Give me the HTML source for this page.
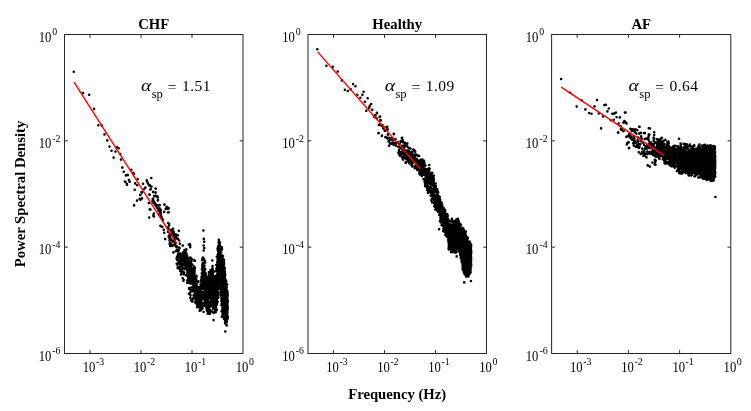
<!DOCTYPE html><html><head><meta charset="utf-8"><style>html,body{margin:0;padding:0;background:#fff;overflow:hidden}svg{display:block;will-change:transform}text{font-family:"Liberation Serif",serif;fill:#000}</style></head><body>
<svg width="751" height="411" viewBox="0 0 751 411">
<rect width="751" height="411" fill="#fff"/>
<path d="M73.8 71.7h0M83.0 93.0h0M89.2 94.7h0M94.1 108.9h0M98.3 125.2h0M101.7 125.4h0M104.5 134.4h0M107.3 140.4h0M109.5 146.6h0M111.5 150.8h0M113.6 157.6h0M115.5 151.6h0M116.9 147.2h0M118.7 148.3h0M120.2 154.0h0M121.1 159.6h0M122.3 167.6h0M123.8 171.8h0M125.9 175.4h0M127.7 175.0h0M124.9 181.5h0M126.9 184.1h0M129.1 180.0h0M129.6 181.8h0M131.3 169.7h0M133.3 172.7h0M134.0 174.1h0M127.9 175.1h0M128.9 180.0h0M125.5 181.9h0M127.0 184.8h0M137.7 179.0h0M135.2 183.4h0M137.2 185.3h0M134.7 189.7h0M143.0 183.8h0M151.3 178.0h0M146.9 180.9h0M147.9 183.4h0M149.3 185.8h0M151.3 186.8h0M145.4 187.7h0M144.0 189.2h0M150.8 189.2h0M155.7 188.7h0M141.5 192.1h0M140.1 195.0h0M149.3 194.5h0M153.2 192.1h0M155.7 192.6h0M154.2 196.0h0M157.1 196.5h0M142.0 198.4h0M139.6 198.9h0M153.2 198.9h0M146.8 180.2h0M147.6 182.7h0M149.7 185.1h0M151.5 186.5h0M145.4 187.5h0M150.2 189.5h0M155.6 188.5h0M153.1 191.9h0M155.6 192.6h0M142.0 192.4h0M149.7 194.8h0M155.6 195.8h0M157.5 196.3h0M140.5 194.8h0M142.0 198.2h0M140.5 199.7h0M152.7 198.7h0M158.0 200.2h0M153.6 201.1h0M148.8 203.1h0M155.1 203.6h0M159.5 205.0h0M157.0 206.5h0M164.3 204.5h0M167.3 207.0h0M168.7 208.4h0M149.7 209.4h0M159.5 208.4h0M154.9 196.0h0M156.5 196.5h0M157.8 197.4h0M152.9 199.4h0M157.8 200.4h0M154.9 202.8h0M156.8 204.7h0M159.7 205.2h0M164.6 204.7h0M166.5 207.2h0M168.5 208.1h0M158.8 208.6h0M158.3 210.6h0M160.7 212.0h0M164.1 212.0h0M168.0 212.5h0M153.9 213.5h0M153.4 215.9h0M160.7 214.5h0M161.2 216.9h0M150.5 209.6h0M152.5 201.0h0M153.5 203.0h0M155.0 204.5h0M156.0 206.0h0M157.0 207.5h0M158.0 209.0h0M159.0 211.0h0M160.0 213.0h0M161.0 215.0h0M161.5 217.0h0M162.5 219.0h0M156.0 205.0h0M157.5 206.0h0M159.9 208.9h0M160.8 209.9h0M160.8 212.8h0M164.2 211.8h0M166.7 207.0h0M168.1 208.9h0M168.6 212.3h0M165.7 208.9h0M159.5 214.0h0M160.5 216.0h0M161.8 218.0h0M162.8 220.6h0M160.4 225.9h0M162.3 226.9h0M163.8 229.8h0M164.2 232.7h0M165.2 239.1h0M168.1 223.0h0M169.1 225.4h0M167.7 227.4h0M168.6 229.3h0M171.1 229.8h0M172.0 232.3h0M169.6 234.2h0M170.1 237.1h0M170.6 240.0h0M174.5 234.2h0M175.9 236.1h0M177.9 235.2h0M178.8 230.8h0M177.9 239.1h0M175.4 238.1h0M173.5 242.0h0M179.8 243.9h0M190.0 244.4h0M137.0 200.6h0M134.1 205.4h0M149.2 217.6h0M153.6 214.2h0M154.0 216.5h0M179.2 240.5h0M190.0 245.0h0M190.2 247.3h0M194.3 260.4h0M193.8 268.2h0M177.3 263.8h0M177.8 268.2h0M176.7 263.8h0M177.7 268.1h0M194.2 260.4h0M194.2 267.7h0M181.0 274.5h0M188.8 244.6h0M190.2 246.0h0M195.0 260.8h0M195.0 267.6h0M203.4 230.5h0M203.8 238.9h0M204.2 241.8h0M203.6 245.5h0M204.3 248.0h0M203.7 250.5h0M212.3 260.5h0M212.5 266.0h0M218.8 239.7h0M213.6 320.1h0M225.3 331.5h0M191.1 300.5h0M192.3 301.7h0M197.2 307.2h0M199.6 310.8h0M168.0 231.8h0M168.2 228.0h0M168.7 236.2h0M169.0 237.6h0M169.2 224.0h0M169.6 240.2h0M169.5 240.3h0M169.7 244.0h0M169.8 242.7h0M170.0 244.9h0M170.2 246.0h0M170.5 238.7h0M170.7 235.2h0M171.0 243.6h0M171.3 234.1h0M171.3 230.7h0M171.4 234.1h0M171.6 245.3h0M171.9 240.6h0M172.1 245.2h0M172.3 245.9h0M172.5 245.4h0M172.7 230.1h0M172.9 233.8h0M172.9 245.1h0M173.1 228.8h0M173.4 235.5h0M173.4 252.4h0M173.7 231.9h0M173.6 236.5h0M173.7 234.2h0M173.9 237.8h0M174.0 238.8h0M174.2 241.0h0M174.3 245.2h0M174.6 236.5h0M174.7 240.2h0M174.6 242.0h0M174.8 242.2h0M174.9 245.1h0M175.0 244.2h0M175.1 239.6h0M175.2 239.0h0M175.5 243.1h0M175.4 237.0h0M175.6 234.4h0M175.8 242.8h0M175.8 251.3h0M176.2 247.0h0M176.3 247.2h0M176.3 246.5h0M176.6 246.0h0M176.7 250.0h0M176.6 246.4h0M176.6 258.6h0M177.0 256.7h0M177.1 260.1h0M177.1 250.5h0M177.2 264.5h0M177.4 238.3h0M177.5 258.5h0M177.4 256.4h0M177.7 247.2h0M177.6 263.3h0M177.8 266.9h0M178.0 251.3h0M178.1 255.9h0M178.0 254.6h0M178.2 257.3h0M178.3 253.9h0M178.4 251.2h0M178.6 255.9h0M178.4 260.1h0M178.5 263.8h0M178.7 267.5h0M178.8 256.0h0M178.7 250.1h0M178.9 256.7h0M179.1 261.8h0M179.0 255.0h0M179.2 255.5h0M179.1 254.6h0M179.1 256.0h0M179.3 254.8h0M179.5 257.3h0M179.3 260.5h0M179.6 247.9h0M179.5 261.3h0M179.6 266.8h0M179.9 268.9h0M179.8 262.9h0M179.8 268.8h0M179.9 243.7h0M180.2 270.9h0M180.1 263.6h0M180.2 253.6h0M180.5 259.2h0M180.5 261.3h0M180.5 266.1h0M180.6 261.6h0M180.7 264.8h0M180.8 259.8h0M180.8 259.6h0M181.0 260.8h0M181.0 262.4h0M181.2 262.6h0M181.2 264.1h0M181.1 260.0h0M181.5 265.1h0M181.4 273.4h0M181.4 255.2h0M181.6 255.3h0M181.5 258.2h0M181.7 257.9h0M181.8 269.0h0M181.7 259.8h0M181.9 265.8h0M181.8 273.0h0M181.9 262.6h0M182.0 272.3h0M182.0 266.5h0M182.2 269.4h0M182.2 272.8h0M182.3 272.0h0M182.3 272.1h0M182.4 263.3h0M182.6 255.3h0M182.5 255.9h0M182.6 257.3h0M182.6 254.0h0M182.7 278.2h0M182.7 245.6h0M183.0 252.3h0M183.0 252.8h0M183.2 259.9h0M183.2 255.7h0M183.3 272.0h0M183.3 259.1h0M183.4 262.3h0M183.5 271.7h0M183.4 268.0h0M183.6 260.7h0M183.6 280.6h0M183.5 280.8h0M183.7 279.8h0M183.8 274.4h0M184.0 256.6h0M184.0 264.6h0M183.9 268.1h0M184.2 272.8h0M184.0 264.8h0M184.1 260.7h0M184.1 262.3h0M184.2 262.6h0M184.4 256.9h0M184.2 252.5h0M184.4 251.1h0M184.3 254.0h0M184.6 261.1h0M184.5 250.0h0M184.5 256.2h0M184.5 250.0h0M184.7 256.3h0M184.9 256.1h0M184.8 263.3h0M184.8 263.9h0M184.8 259.4h0M185.0 269.0h0M185.2 258.2h0M185.2 268.8h0M185.2 268.8h0M185.4 269.3h0M185.5 266.6h0M185.5 252.0h0M185.6 255.5h0M185.6 263.8h0M185.7 259.3h0M185.8 267.3h0M185.8 266.3h0M185.9 251.0h0M185.9 250.2h0M186.1 275.2h0M186.1 261.5h0M186.1 253.2h0M186.2 254.2h0M186.3 254.8h0M186.3 249.4h0M186.3 256.1h0M186.4 259.5h0M186.5 261.6h0M186.4 260.3h0M186.7 253.7h0M186.7 258.3h0M186.6 265.1h0M186.8 266.5h0M186.9 263.2h0M186.9 261.2h0M186.8 260.5h0M186.9 268.4h0M187.1 264.2h0M187.1 282.8h0M187.1 282.7h0M187.3 280.5h0M187.4 273.0h0M187.3 256.3h0M187.3 267.1h0M187.5 271.3h0M187.6 274.9h0M187.5 271.6h0M187.4 259.5h0M187.5 259.8h0M187.7 263.8h0M187.5 270.5h0M187.8 267.6h0M187.9 263.7h0M187.9 261.7h0M187.9 271.6h0M187.8 276.5h0M188.0 279.2h0M187.9 269.3h0M188.2 265.4h0M188.0 277.1h0M188.2 280.3h0M188.4 272.9h0M188.2 282.9h0M188.2 270.9h0M188.4 270.4h0M188.3 269.0h0M188.4 279.8h0M188.7 263.4h0M188.5 272.7h0M188.5 274.8h0M188.7 266.0h0M188.8 258.4h0M188.7 280.5h0M188.9 293.8h0M188.8 276.9h0M188.8 262.4h0M189.0 261.4h0M189.0 268.2h0M189.1 269.6h0M189.2 258.4h0M189.2 273.7h0M189.0 288.7h0M189.2 288.1h0M189.3 275.8h0M189.2 267.1h0M189.2 267.8h0M189.3 271.4h0M189.5 271.4h0M189.4 274.4h0M189.4 275.8h0M189.6 279.8h0M189.4 264.5h0M189.5 268.2h0M189.7 280.8h0M189.7 276.1h0M189.9 274.2h0M189.8 281.1h0M190.0 269.0h0M189.9 275.5h0M189.8 282.1h0M190.1 278.3h0M190.0 276.8h0M190.2 272.5h0M190.1 279.4h0M190.1 289.2h0M190.4 257.5h0M190.4 297.9h0M190.5 289.7h0M190.4 292.4h0M190.5 295.2h0M190.6 289.8h0M190.5 278.6h0M190.5 288.1h0M190.7 283.8h0M190.6 265.9h0M190.8 262.9h0M190.7 275.6h0M190.7 282.1h0M190.7 274.4h0M190.7 268.3h0M191.0 268.3h0M190.9 267.5h0M190.9 277.9h0M191.1 267.9h0M191.1 277.7h0M191.3 272.8h0M191.3 272.5h0M191.2 260.2h0M191.3 265.5h0M191.4 274.7h0M191.5 261.2h0M191.3 265.6h0M191.4 269.5h0M191.4 271.7h0M191.5 273.7h0M191.6 281.7h0M191.6 270.4h0M191.6 271.4h0M191.6 300.4h0M191.9 301.3h0M192.0 259.1h0M192.0 271.3h0M191.9 287.3h0M192.1 278.6h0M192.0 279.2h0M192.0 271.0h0M192.1 272.8h0M192.3 276.0h0M192.4 272.2h0M192.3 271.6h0M192.3 273.7h0M192.3 264.5h0M192.3 290.3h0M192.4 300.9h0M192.4 272.3h0M192.5 276.1h0M192.6 279.4h0M192.6 277.4h0M192.8 268.6h0M192.7 287.4h0M192.6 276.0h0M192.7 283.3h0M192.9 269.9h0M192.9 275.3h0M192.8 269.0h0M192.9 280.0h0M192.8 291.5h0M193.1 298.4h0M193.1 286.2h0M193.2 284.1h0M193.1 268.3h0M193.0 273.4h0M193.0 272.0h0M193.2 282.5h0M193.2 288.3h0M193.4 285.8h0M193.4 285.9h0M193.3 290.9h0M193.6 279.9h0M193.4 277.4h0M193.4 283.7h0M193.5 289.7h0M193.5 282.7h0M193.6 288.9h0M193.6 295.4h0M193.5 284.6h0M193.8 280.9h0M193.7 272.8h0M193.7 274.7h0M193.7 280.9h0M193.9 271.6h0M193.8 273.1h0M193.8 281.9h0M193.9 266.5h0M194.0 274.8h0M194.0 280.5h0M194.0 280.5h0M194.1 281.9h0M194.0 284.2h0M194.2 274.6h0M194.1 282.5h0M194.1 287.1h0M194.4 290.9h0M194.2 294.6h0M194.3 290.8h0M194.3 297.3h0M194.5 286.0h0M194.4 276.4h0M194.5 273.7h0M194.5 272.2h0M194.5 271.1h0M194.6 269.9h0M194.6 277.8h0M194.7 276.7h0M194.7 277.4h0M194.8 282.1h0M194.9 289.3h0M194.8 280.4h0M195.0 280.9h0M195.1 279.7h0M195.1 284.5h0M195.1 297.2h0M195.0 297.9h0M194.9 289.9h0M195.2 288.1h0M195.0 297.2h0M195.2 302.2h0M195.3 293.7h0M195.3 293.6h0M195.3 283.9h0M195.2 291.8h0M195.3 293.1h0M195.5 294.3h0M195.4 294.7h0M195.6 293.8h0M195.6 299.5h0M195.6 297.9h0M195.5 290.9h0M195.5 292.6h0M195.7 278.2h0M195.5 298.0h0M195.6 284.7h0M195.7 293.5h0M195.9 294.9h0M195.8 281.2h0M195.9 291.2h0M195.8 303.2h0M195.8 300.8h0M196.1 301.8h0M196.1 301.3h0M196.1 291.1h0M196.0 292.0h0M196.3 284.0h0M196.1 283.9h0M196.1 286.8h0M196.4 288.7h0M196.2 284.0h0M196.5 276.9h0M196.2 287.3h0M196.4 275.9h0M196.4 286.4h0M196.6 284.0h0M196.5 298.3h0M196.4 294.6h0M196.6 280.3h0M196.6 296.3h0M196.7 303.0h0M196.7 295.9h0M196.6 294.6h0M196.7 303.3h0M197.0 295.7h0M196.7 289.4h0M196.8 294.6h0M196.9 292.3h0M197.0 290.8h0M197.0 286.4h0M197.0 290.8h0M197.2 295.9h0M197.1 292.6h0M197.2 294.9h0M197.1 293.4h0M197.2 288.2h0M197.1 288.2h0M197.2 295.4h0M197.3 297.7h0M197.3 305.3h0M197.3 306.3h0M197.2 297.0h0M197.2 304.0h0M197.4 305.0h0M197.5 299.0h0M197.4 295.6h0M197.5 291.5h0M197.5 294.9h0M197.5 295.7h0M197.5 303.1h0M197.6 301.7h0M197.7 304.8h0M197.6 301.5h0M197.7 295.1h0M197.7 301.7h0M197.9 297.4h0M197.8 297.9h0M198.0 302.6h0M198.1 302.1h0M198.1 295.1h0M197.9 294.8h0M198.1 295.0h0M198.1 290.5h0M198.1 295.7h0M198.1 289.8h0M198.3 281.2h0M198.0 281.7h0M198.1 287.5h0M198.2 288.2h0M198.3 290.6h0M198.4 293.8h0M198.3 292.9h0M198.4 281.9h0M198.4 290.3h0M198.4 288.5h0M198.6 290.0h0M198.5 301.4h0M198.4 303.8h0M198.4 304.6h0M198.6 299.6h0M198.8 300.9h0M198.8 295.1h0M198.7 287.1h0M198.7 296.2h0M198.8 291.1h0M198.7 293.3h0M199.0 296.5h0M199.0 293.3h0M198.9 302.6h0M199.0 300.6h0M198.9 291.9h0M199.0 306.4h0M199.1 296.9h0M199.1 297.5h0M199.1 300.0h0M199.3 299.1h0M199.1 299.7h0M199.3 300.6h0M199.1 303.3h0M199.3 296.5h0M199.4 298.1h0M199.3 294.6h0M199.5 297.9h0M199.3 299.0h0M199.3 297.0h0M199.4 304.3h0M199.4 294.9h0M199.6 296.6h0M199.6 300.4h0M199.4 301.4h0M199.4 295.4h0M199.7 301.7h0M199.7 306.3h0M199.7 305.2h0M199.6 303.8h0M199.7 304.1h0M200.0 302.8h0M199.8 302.7h0M200.0 300.8h0M200.0 297.0h0M199.9 300.6h0M200.0 300.5h0M199.8 306.8h0M199.9 308.3h0M200.0 301.1h0M200.1 300.5h0M200.0 302.6h0M200.2 307.3h0M199.9 303.7h0M200.2 302.3h0M200.1 295.6h0M200.1 287.2h0M200.3 305.9h0M200.3 292.1h0M200.2 289.2h0M200.3 290.4h0M200.4 288.3h0M200.4 292.9h0M200.3 296.7h0M200.4 291.8h0M200.4 292.3h0M200.5 291.7h0M200.5 291.9h0M200.6 288.3h0M200.6 291.7h0M200.5 293.3h0M200.7 291.3h0M200.8 298.5h0M200.8 300.1h0M200.7 300.6h0M200.7 295.1h0M200.6 284.5h0M200.8 286.7h0M200.8 286.1h0M200.8 287.1h0M201.0 294.6h0M200.9 298.6h0M200.9 310.2h0M200.8 305.8h0M201.1 308.2h0M200.8 303.6h0M200.9 288.1h0M201.0 288.6h0M201.2 288.1h0M201.1 285.4h0M201.2 295.3h0M201.1 294.2h0M201.2 294.2h0M201.3 279.6h0M201.4 282.5h0M201.1 280.9h0M201.3 287.6h0M201.4 299.5h0M201.2 308.8h0M201.2 304.8h0M201.3 291.1h0M201.3 306.1h0M201.3 301.0h0M201.3 291.8h0M201.5 288.7h0M201.4 289.4h0M201.4 299.1h0M201.6 300.2h0M201.4 307.4h0M201.6 304.5h0M201.6 297.2h0M201.4 296.4h0M201.5 289.2h0M201.7 280.2h0M201.5 276.8h0M201.8 279.4h0M201.8 277.0h0M201.7 278.1h0M201.6 287.1h0M201.7 286.6h0M201.7 292.3h0M201.9 283.6h0M201.8 273.4h0M202.0 286.0h0M201.9 269.4h0M202.0 288.9h0M201.9 295.1h0M201.9 306.3h0M201.9 293.3h0M201.9 289.0h0M202.0 288.0h0M201.9 297.4h0M202.1 282.7h0M202.0 294.8h0M202.1 298.1h0M202.1 299.1h0M202.1 288.2h0M202.2 303.2h0M202.1 288.0h0M202.3 259.1h0M202.2 260.2h0M202.3 278.8h0M202.3 277.4h0M202.2 274.6h0M202.2 269.3h0M202.3 267.1h0M202.3 303.2h0M202.5 308.6h0M202.3 265.4h0M202.5 277.3h0M202.4 286.3h0M202.6 280.7h0M202.6 292.8h0M202.6 270.7h0M202.6 283.1h0M202.5 279.3h0M202.5 282.0h0M202.5 287.4h0M202.6 294.5h0M202.6 281.9h0M202.6 263.3h0M202.9 292.8h0M202.8 272.1h0M202.8 264.4h0M202.7 270.7h0M202.9 267.1h0M203.0 287.4h0M202.9 296.6h0M202.8 283.8h0M202.8 272.1h0M202.9 257.9h0M202.9 257.6h0M203.0 283.5h0M202.9 279.2h0M203.2 294.6h0M203.1 281.5h0M203.2 293.9h0M203.1 286.3h0M203.2 276.9h0M203.2 286.0h0M203.4 277.5h0M203.4 278.0h0M203.2 271.5h0M203.5 259.9h0M203.4 259.7h0M203.4 279.9h0M203.3 281.8h0M203.6 298.2h0M203.5 299.0h0M203.6 292.5h0M203.4 293.8h0M203.6 303.6h0M203.5 274.2h0M203.8 284.5h0M203.7 284.3h0M203.6 312.0h0M203.9 259.2h0M203.8 262.9h0M203.7 274.7h0M203.8 266.3h0M203.8 276.3h0M203.9 292.0h0M203.7 285.1h0M203.8 259.4h0M203.9 306.1h0M203.9 280.6h0M203.8 288.4h0M203.9 295.3h0M204.0 297.5h0M203.9 294.7h0M204.0 288.7h0M204.0 302.7h0M204.0 286.9h0M204.0 267.6h0M204.1 265.4h0M204.0 258.7h0M204.3 267.7h0M204.3 265.8h0M204.4 270.7h0M204.2 268.4h0M204.4 273.6h0M204.4 279.2h0M204.5 273.4h0M204.3 279.1h0M204.4 282.4h0M204.4 282.3h0M204.5 284.3h0M204.6 276.0h0M204.5 273.7h0M204.5 265.5h0M204.5 274.8h0M204.6 290.2h0M204.6 284.1h0M204.6 272.2h0M204.6 278.4h0M204.6 284.3h0M204.8 297.4h0M204.9 293.9h0M204.7 281.5h0M204.9 276.5h0M204.8 269.7h0M204.9 261.1h0M204.8 277.5h0M204.9 300.9h0M205.0 280.6h0M204.9 294.7h0M205.0 297.2h0M204.9 276.0h0M205.0 286.0h0M205.2 269.0h0M205.1 270.0h0M205.1 262.4h0M205.1 273.9h0M205.0 283.6h0M205.0 281.3h0M205.0 292.1h0M205.1 299.1h0M205.1 299.0h0M205.1 279.3h0M205.2 284.2h0M205.3 290.9h0M205.1 276.1h0M205.2 275.9h0M205.1 285.9h0M205.3 279.6h0M205.2 293.5h0M205.2 280.6h0M205.3 300.0h0M205.5 300.5h0M205.3 303.8h0M205.6 304.7h0M205.4 291.0h0M205.5 278.3h0M205.6 273.4h0M205.4 282.5h0M205.6 284.0h0M205.6 287.1h0M205.7 303.3h0M205.6 304.3h0M205.8 301.4h0M205.7 288.4h0M205.6 290.7h0M205.8 278.8h0M205.9 275.1h0M205.8 275.6h0M205.7 275.1h0M205.8 281.6h0M205.7 282.0h0M206.0 284.9h0M205.8 275.5h0M206.0 282.3h0M205.9 278.6h0M206.0 274.6h0M205.9 278.9h0M206.1 274.5h0M206.2 282.9h0M206.1 287.9h0M206.2 297.0h0M206.1 300.4h0M206.1 290.3h0M206.0 284.7h0M206.2 285.6h0M206.4 298.1h0M206.2 288.0h0M206.2 307.2h0M206.3 300.8h0M206.2 290.8h0M206.3 285.1h0M206.4 277.6h0M206.2 286.0h0M206.5 280.7h0M206.3 295.0h0M206.5 286.6h0M206.6 288.0h0M206.6 293.1h0M206.5 291.8h0M206.7 278.1h0M206.4 299.4h0M206.4 276.3h0M206.6 292.0h0M206.5 290.5h0M206.7 284.7h0M206.6 282.4h0M206.7 278.0h0M206.6 282.0h0M206.7 287.5h0M206.8 291.5h0M206.6 300.4h0M206.7 309.3h0M206.7 300.9h0M206.7 297.8h0M206.7 296.2h0M206.8 310.6h0M206.8 296.4h0M206.8 301.0h0M207.0 302.7h0M206.9 295.7h0M206.9 306.6h0M207.0 303.4h0M207.0 300.1h0M207.2 303.2h0M207.2 308.4h0M207.0 310.7h0M207.3 308.5h0M207.3 297.4h0M207.3 296.9h0M207.3 298.7h0M207.4 303.7h0M207.3 296.5h0M207.2 295.1h0M207.2 296.1h0M207.5 292.5h0M207.4 288.6h0M207.5 291.7h0M207.3 285.9h0M207.5 287.8h0M207.4 298.2h0M207.6 294.7h0M207.6 293.2h0M207.6 299.8h0M207.6 306.6h0M207.6 297.3h0M207.5 286.8h0M207.5 287.7h0M207.4 300.8h0M207.8 306.7h0M207.7 311.3h0M207.5 294.2h0M207.7 313.6h0M207.6 291.8h0M207.7 281.1h0M207.8 306.5h0M207.9 310.7h0M207.7 297.5h0M207.8 287.9h0M207.7 283.7h0M207.9 279.7h0M207.8 284.2h0M208.0 288.1h0M207.8 290.4h0M207.8 295.9h0M208.0 281.7h0M208.0 280.9h0M207.8 289.0h0M208.1 288.1h0M207.9 288.5h0M208.0 284.6h0M207.9 284.8h0M208.1 288.6h0M207.9 288.4h0M208.1 281.3h0M208.0 286.9h0M208.3 294.0h0M208.0 290.4h0M208.0 296.4h0M208.1 297.7h0M208.2 296.1h0M208.2 298.6h0M208.4 293.5h0M208.1 289.0h0M208.2 279.8h0M208.2 312.4h0M208.2 278.8h0M208.2 294.0h0M208.4 306.6h0M208.3 308.7h0M208.4 304.4h0M208.3 291.7h0M208.4 290.3h0M208.3 278.1h0M208.3 292.7h0M208.4 290.6h0M208.5 296.2h0M208.4 303.0h0M208.4 286.1h0M208.4 283.3h0M208.6 290.1h0M208.4 307.4h0M208.5 298.4h0M208.5 292.1h0M208.5 291.3h0M208.8 292.7h0M208.6 291.7h0M208.8 287.1h0M208.9 289.4h0M208.9 301.8h0M208.8 296.7h0M208.8 286.0h0M208.9 289.4h0M208.8 272.3h0M208.9 284.9h0M209.0 284.3h0M209.0 284.0h0M208.8 277.0h0M209.0 286.7h0M209.1 278.6h0M209.0 272.7h0M209.1 275.5h0M209.2 274.5h0M209.2 285.9h0M209.2 298.5h0M209.0 281.0h0M209.0 298.1h0M209.2 306.1h0M209.2 307.7h0M209.2 306.7h0M209.2 309.2h0M209.3 291.9h0M209.3 293.9h0M209.1 294.8h0M209.3 294.1h0M209.4 292.7h0M209.5 290.9h0M209.4 281.9h0M209.4 298.0h0M209.3 275.2h0M209.3 296.5h0M209.3 283.5h0M209.5 283.1h0M209.6 297.2h0M209.4 290.6h0M209.4 280.1h0M209.4 275.2h0M209.6 283.0h0M209.4 283.8h0M209.6 291.2h0M209.5 282.3h0M209.6 284.8h0M209.7 279.6h0M209.7 281.2h0M209.7 292.0h0M209.6 304.1h0M209.8 301.7h0M209.7 313.9h0M209.6 306.6h0M209.7 305.7h0M209.7 304.4h0M209.9 288.4h0M209.7 285.3h0M209.7 273.0h0M209.7 280.8h0M209.8 297.9h0M210.0 281.3h0M209.9 276.7h0M210.0 283.8h0M209.8 285.3h0M210.1 291.8h0M210.0 272.1h0M209.9 313.4h0M209.9 274.9h0M209.9 276.0h0M210.1 292.0h0M210.2 284.4h0M210.1 291.9h0M210.0 298.2h0M210.2 292.5h0M210.1 295.6h0M210.3 278.8h0M210.0 289.9h0M210.2 293.4h0M210.1 273.4h0M210.3 285.4h0M210.2 288.0h0M210.4 285.6h0M210.2 310.2h0M210.2 311.1h0M210.2 310.2h0M210.3 297.1h0M210.5 311.7h0M210.4 302.1h0M210.3 289.8h0M210.5 293.0h0M210.5 279.1h0M210.5 270.0h0M210.5 280.4h0M210.6 285.0h0M210.5 286.5h0M210.4 282.5h0M210.7 292.0h0M210.5 279.1h0M210.7 271.8h0M210.7 283.9h0M210.6 284.8h0M210.6 282.2h0M210.8 287.1h0M210.7 298.4h0M210.8 288.3h0M210.8 282.0h0M210.9 289.8h0M210.8 285.2h0M210.7 281.5h0M210.9 293.6h0M210.7 301.4h0M210.7 283.0h0M211.0 288.3h0M210.9 290.8h0M210.9 291.9h0M211.0 293.0h0M211.1 288.1h0M211.0 290.9h0M211.1 285.9h0M211.0 291.3h0M211.1 283.0h0M211.2 277.1h0M210.9 296.3h0M210.9 290.7h0M211.2 288.6h0M211.2 287.5h0M211.2 295.5h0M211.3 289.5h0M211.2 290.7h0M211.3 292.3h0M211.1 281.1h0M211.2 291.4h0M211.2 296.1h0M211.3 294.5h0M211.1 287.0h0M211.3 283.0h0M211.1 280.8h0M211.2 272.3h0M211.2 282.9h0M211.2 279.1h0M211.2 281.6h0M211.4 305.4h0M211.4 278.2h0M211.3 294.9h0M211.4 301.8h0M211.5 306.3h0M211.5 311.5h0M211.4 302.5h0M211.5 301.7h0M211.6 311.1h0M211.3 294.2h0M211.4 299.2h0M211.6 310.7h0M211.5 299.2h0M211.6 283.8h0M211.5 305.4h0M211.5 295.8h0M211.6 287.3h0M211.6 297.8h0M211.7 293.1h0M211.7 294.8h0M211.5 285.1h0M211.5 287.8h0M211.7 293.4h0M211.7 290.5h0M211.6 279.1h0M211.7 287.9h0M211.8 293.8h0M211.7 284.0h0M211.8 302.3h0M211.7 289.2h0M211.7 287.0h0M211.7 286.8h0M211.8 285.9h0M211.8 291.3h0M211.9 300.8h0M211.8 291.6h0M211.8 293.3h0M212.0 284.4h0M211.8 290.9h0M211.8 281.3h0M212.0 291.3h0M212.0 289.2h0M211.9 278.9h0M211.9 272.6h0M212.1 271.7h0M212.0 284.5h0M212.0 295.4h0M212.1 294.7h0M212.0 297.1h0M212.0 283.1h0M212.3 293.5h0M212.2 294.3h0M212.3 285.8h0M212.1 293.3h0M212.2 286.1h0M212.3 287.5h0M212.3 277.4h0M212.4 288.2h0M212.1 298.6h0M212.3 295.0h0M212.2 294.5h0M212.1 285.9h0M212.2 287.4h0M212.2 274.4h0M212.2 281.9h0M212.3 290.1h0M212.2 300.2h0M212.2 297.6h0M212.5 294.0h0M212.4 289.4h0M212.3 275.6h0M212.3 277.1h0M212.6 270.3h0M212.5 282.1h0M212.4 291.9h0M212.4 286.8h0M212.6 277.2h0M212.5 284.1h0M212.4 272.4h0M212.4 268.3h0M212.6 279.5h0M212.5 281.6h0M212.7 277.9h0M212.4 281.4h0M212.5 287.5h0M212.6 294.8h0M212.7 288.1h0M212.7 292.8h0M212.6 288.0h0M212.7 268.4h0M212.6 269.5h0M212.7 270.8h0M212.6 272.3h0M212.7 275.2h0M212.6 284.0h0M212.6 302.2h0M212.9 287.2h0M212.8 278.0h0M212.8 273.9h0M212.8 272.4h0M213.0 289.6h0M212.9 296.3h0M212.8 306.7h0M212.9 271.3h0M212.9 296.9h0M213.0 303.4h0M213.1 283.8h0M213.2 285.1h0M213.1 290.5h0M212.9 299.5h0M213.0 295.8h0M213.0 293.7h0M213.2 290.7h0M213.1 286.5h0M213.2 292.4h0M213.1 294.1h0M213.1 295.9h0M213.1 289.9h0M213.3 290.1h0M213.3 295.5h0M213.3 307.7h0M213.2 301.7h0M213.3 302.8h0M213.4 308.7h0M213.3 312.6h0M213.5 301.2h0M213.4 287.8h0M213.6 292.2h0M213.4 306.9h0M213.5 294.0h0M213.4 289.4h0M213.4 293.1h0M213.6 287.0h0M213.4 283.7h0M213.6 280.6h0M213.5 286.1h0M213.5 290.9h0M213.5 302.9h0M213.5 312.9h0M213.5 307.2h0M213.7 288.6h0M213.7 288.6h0M213.6 279.7h0M213.6 283.1h0M213.8 278.0h0M213.5 276.8h0M213.6 292.5h0M213.6 289.2h0M213.6 299.9h0M213.7 308.8h0M213.7 290.7h0M213.9 290.3h0M213.6 294.4h0M213.9 286.6h0M213.9 290.4h0M213.9 295.1h0M213.9 300.4h0M213.8 284.4h0M214.0 287.2h0M214.0 292.2h0M213.8 300.1h0M213.9 302.4h0M214.0 285.1h0M213.9 282.8h0M214.1 292.0h0M214.0 288.5h0M214.0 290.9h0M213.9 288.0h0M214.1 279.4h0M214.1 294.8h0M213.9 293.9h0M214.2 286.3h0M214.2 284.3h0M213.9 292.5h0M214.2 295.7h0M214.0 302.3h0M214.3 282.7h0M214.1 282.7h0M214.1 308.3h0M214.3 304.9h0M214.1 293.2h0M214.1 292.8h0M214.1 286.9h0M214.3 290.7h0M214.1 286.5h0M214.4 271.5h0M214.4 298.5h0M214.4 290.5h0M214.4 293.7h0M214.5 296.2h0M214.5 305.1h0M214.2 276.4h0M214.3 306.5h0M214.5 303.1h0M214.4 288.6h0M214.3 292.8h0M214.4 286.5h0M214.3 291.3h0M214.3 292.6h0M214.4 292.5h0M214.3 311.9h0M214.5 282.3h0M214.4 307.6h0M214.6 285.5h0M214.7 288.4h0M214.5 292.8h0M214.6 302.1h0M214.7 308.2h0M214.6 291.5h0M214.6 289.2h0M214.7 291.8h0M214.8 295.3h0M214.5 302.1h0M214.6 299.5h0M214.7 293.6h0M214.6 298.2h0M214.7 290.5h0M214.7 300.6h0M214.8 299.4h0M214.7 303.5h0M214.8 297.7h0M214.9 294.0h0M214.9 293.2h0M214.8 302.3h0M214.7 300.0h0M215.0 305.7h0M214.9 301.8h0M215.1 285.7h0M214.8 281.5h0M215.0 285.1h0M214.8 292.1h0M214.9 302.1h0M214.9 295.2h0M214.9 288.6h0M215.1 300.4h0M214.9 279.6h0M215.0 279.8h0M214.9 283.3h0M214.9 279.8h0M215.1 288.9h0M215.0 299.4h0M215.2 300.3h0M215.1 296.7h0M215.3 302.1h0M215.1 294.5h0M215.2 287.1h0M215.3 290.0h0M215.1 305.1h0M215.2 306.7h0M215.3 298.3h0M215.1 295.2h0M215.3 296.0h0M215.2 293.1h0M215.4 291.3h0M215.4 298.0h0M215.2 294.8h0M215.3 299.8h0M215.3 299.0h0M215.2 296.5h0M215.4 287.7h0M215.5 306.9h0M215.3 289.5h0M215.4 292.6h0M215.4 295.1h0M215.5 296.9h0M215.6 303.4h0M215.4 307.3h0M215.5 310.9h0M215.6 303.1h0M215.5 303.9h0M215.7 310.2h0M215.5 298.1h0M215.5 311.0h0M215.7 312.2h0M215.6 312.1h0M215.5 295.2h0M215.6 291.5h0M215.5 280.2h0M215.5 284.5h0M215.6 289.6h0M215.6 292.3h0M215.6 301.6h0M215.7 298.8h0M215.7 291.4h0M215.8 290.5h0M215.8 288.2h0M215.7 298.9h0M215.9 300.6h0M215.8 291.9h0M215.9 293.9h0M216.0 291.0h0M215.9 307.2h0M215.8 287.3h0M215.7 278.4h0M215.9 294.6h0M215.8 304.7h0M215.8 310.8h0M215.8 299.2h0M216.0 291.5h0M216.0 291.3h0M216.0 291.5h0M216.0 292.1h0M216.0 298.5h0M215.9 301.0h0M216.1 307.7h0M215.9 308.9h0M216.1 303.0h0M216.0 295.2h0M216.0 298.4h0M216.1 290.6h0M216.3 299.7h0M216.1 300.8h0M216.1 288.2h0M216.3 286.9h0M216.1 283.2h0M216.3 296.1h0M216.1 294.2h0M216.4 301.8h0M216.3 289.1h0M216.3 296.2h0M216.2 287.6h0M216.3 290.4h0M216.3 287.4h0M216.3 302.3h0M216.3 289.1h0M216.3 279.5h0M216.5 271.2h0M216.3 268.8h0M216.3 265.1h0M216.5 282.3h0M216.3 271.0h0M216.3 275.9h0M216.6 276.2h0M216.5 278.4h0M216.6 270.6h0M216.5 288.5h0M216.4 293.1h0M216.6 281.7h0M216.6 292.4h0M216.4 303.0h0M216.7 295.4h0M216.5 287.8h0M216.7 277.1h0M216.5 270.4h0M216.5 287.9h0M216.5 286.5h0M216.8 285.6h0M216.7 299.3h0M216.8 299.5h0M216.6 292.8h0M216.7 296.2h0M216.9 304.2h0M216.8 301.5h0M216.6 305.1h0M216.8 296.1h0M216.9 301.6h0M216.9 309.7h0M216.7 276.8h0M216.8 279.8h0M216.7 270.6h0M216.8 256.8h0M216.8 278.6h0M217.0 292.6h0M216.9 288.4h0M216.9 283.4h0M217.0 279.0h0M217.0 298.4h0M216.8 299.6h0M216.9 279.4h0M217.1 287.3h0M216.9 274.8h0M217.1 267.0h0M217.0 270.6h0M217.1 293.5h0M217.1 295.0h0M217.1 283.1h0M217.0 301.6h0M217.0 293.9h0M217.2 284.7h0M217.1 274.9h0M217.2 269.2h0M217.2 267.4h0M217.2 286.9h0M217.1 278.7h0M217.2 301.9h0M217.1 276.9h0M217.1 280.0h0M217.3 285.9h0M217.3 297.6h0M217.3 288.8h0M217.2 280.7h0M217.4 262.7h0M217.4 274.5h0M217.1 267.3h0M217.3 261.8h0M217.3 266.3h0M217.2 286.5h0M217.3 269.5h0M217.3 274.0h0M217.3 280.9h0M217.3 279.4h0M217.5 274.2h0M217.2 284.2h0M217.3 302.2h0M217.4 269.6h0M217.6 277.4h0M217.4 294.1h0M217.5 302.3h0M217.3 274.1h0M217.4 285.3h0M217.4 281.1h0M217.6 259.6h0M217.7 301.8h0M217.4 280.7h0M217.5 291.2h0M217.7 279.5h0M217.5 270.3h0M217.5 277.7h0M217.8 261.6h0M217.6 248.9h0M217.7 248.3h0M217.7 266.8h0M217.6 266.6h0M217.8 270.9h0M217.6 270.6h0M217.7 261.6h0M217.6 278.6h0M217.7 266.3h0M217.7 258.1h0M217.8 250.4h0M217.7 261.2h0M217.7 256.0h0M217.7 297.9h0M217.9 254.4h0M217.8 267.0h0M217.8 269.0h0M217.7 278.0h0M217.9 267.1h0M217.8 266.1h0M217.8 269.2h0M218.0 266.7h0M217.8 272.3h0M218.0 261.2h0M217.9 263.3h0M218.0 268.4h0M218.0 272.9h0M217.8 277.0h0M218.0 276.7h0M218.1 272.0h0M218.1 282.7h0M218.0 279.4h0M217.9 272.0h0M218.0 286.6h0M218.2 293.9h0M218.0 260.5h0M218.0 246.8h0M217.9 289.1h0M218.2 286.8h0M218.1 285.9h0M218.1 285.7h0M218.2 284.8h0M218.3 297.4h0M218.2 275.5h0M218.2 263.3h0M218.1 287.1h0M218.1 291.9h0M218.2 273.9h0M218.3 283.3h0M218.2 277.0h0M218.2 295.3h0M218.4 274.7h0M218.1 264.4h0M218.1 274.3h0M218.4 254.1h0M218.4 251.4h0M218.2 263.7h0M218.4 253.1h0M218.4 253.1h0M218.4 267.1h0M218.3 276.7h0M218.3 282.6h0M218.3 261.8h0M218.4 254.5h0M218.5 249.8h0M218.6 251.8h0M218.5 253.1h0M218.3 264.6h0M218.3 277.5h0M218.5 273.3h0M218.6 270.5h0M218.6 276.3h0M218.5 274.8h0M218.6 271.3h0M218.4 274.9h0M218.7 276.8h0M218.4 279.1h0M218.7 285.6h0M218.6 276.6h0M218.5 283.0h0M218.7 278.0h0M218.7 288.8h0M218.6 276.5h0M218.7 280.3h0M218.6 262.2h0M218.6 249.6h0M218.8 248.3h0M218.6 252.6h0M218.7 262.9h0M218.6 242.6h0M218.7 245.8h0M218.7 255.0h0M218.8 258.5h0M218.7 246.7h0M218.8 255.8h0M218.7 281.2h0M218.9 260.8h0M218.9 244.2h0M218.7 245.4h0M218.7 253.0h0M218.8 261.8h0M218.8 265.1h0M218.9 249.8h0M219.1 246.7h0M218.8 258.3h0M219.1 271.1h0M219.1 244.6h0M218.9 250.8h0M219.0 255.8h0M219.0 278.4h0M219.0 275.2h0M218.9 275.8h0M219.0 270.5h0M218.9 269.9h0M219.0 270.5h0M219.1 255.5h0M219.2 258.3h0M219.1 254.1h0M219.1 256.6h0M219.0 249.6h0M219.0 254.1h0M219.1 241.6h0M219.0 252.7h0M219.2 256.8h0M219.3 273.1h0M219.1 259.5h0M219.3 261.3h0M219.2 266.1h0M219.3 270.3h0M219.1 269.0h0M219.2 271.8h0M219.2 273.9h0M219.2 264.4h0M219.2 254.0h0M219.3 246.2h0M219.2 247.5h0M219.2 254.0h0M219.3 261.1h0M219.5 267.8h0M219.3 258.8h0M219.4 262.0h0M219.4 258.4h0M219.4 264.3h0M219.5 270.1h0M219.4 267.2h0M219.6 270.3h0M219.4 271.8h0M219.5 268.9h0M219.6 263.5h0M219.4 268.4h0M219.5 262.5h0M219.4 260.4h0M219.5 266.8h0M219.5 268.1h0M219.5 264.1h0M219.6 257.1h0M219.5 252.7h0M219.5 242.5h0M219.7 247.5h0M219.6 267.3h0M219.6 286.2h0M219.6 246.9h0M219.6 244.1h0M219.5 248.3h0M219.8 245.3h0M219.8 267.7h0M219.8 276.1h0M219.8 280.1h0M219.7 264.3h0M219.7 265.0h0M219.6 252.4h0M219.9 261.2h0M219.9 268.9h0M219.7 250.8h0M219.9 264.9h0M219.8 260.2h0M219.7 243.6h0M220.0 242.5h0M219.9 251.3h0M219.8 263.8h0M219.9 262.2h0M220.0 281.3h0M219.9 270.2h0M219.9 269.8h0M219.9 276.7h0M220.0 278.6h0M219.8 261.4h0M220.1 264.7h0M219.9 276.1h0M220.0 285.6h0M220.0 283.0h0M220.0 286.0h0M219.9 276.6h0M220.0 272.7h0M220.1 251.6h0M220.1 254.5h0M220.2 266.8h0M220.2 249.5h0M220.1 282.1h0M220.3 259.8h0M220.1 248.2h0M220.0 246.1h0M220.3 267.5h0M220.2 275.6h0M220.2 277.8h0M220.1 271.1h0M220.2 261.2h0M220.2 276.0h0M220.3 262.7h0M220.3 283.9h0M220.1 283.0h0M220.1 278.2h0M220.3 266.4h0M220.2 259.0h0M220.4 255.7h0M220.2 273.5h0M220.4 270.7h0M220.2 257.5h0M220.3 247.8h0M220.4 256.8h0M220.2 259.3h0M220.3 250.8h0M220.3 253.8h0M220.3 250.5h0M220.3 263.4h0M220.4 260.4h0M220.5 259.8h0M220.4 249.4h0M220.6 246.5h0M220.4 250.0h0M220.5 252.7h0M220.6 251.7h0M220.4 264.0h0M220.4 266.2h0M220.5 279.2h0M220.6 272.8h0M220.6 271.3h0M220.7 277.7h0M220.6 269.0h0M220.4 273.9h0M220.6 270.0h0M220.6 272.4h0M220.5 265.8h0M220.6 258.8h0M220.7 257.1h0M220.5 263.3h0M220.6 259.5h0M220.7 248.6h0M220.8 271.8h0M220.7 294.0h0M220.8 281.3h0M220.7 285.9h0M220.6 281.1h0M220.6 277.2h0M220.8 268.6h0M220.7 275.1h0M220.9 259.9h0M220.7 259.3h0M220.8 284.1h0M220.8 284.0h0M220.7 291.9h0M220.9 275.1h0M220.8 280.1h0M220.8 283.6h0M220.8 284.3h0M221.0 280.6h0M221.0 262.2h0M221.0 277.2h0M221.0 285.3h0M221.0 268.0h0M221.0 285.0h0M220.8 289.4h0M221.0 284.6h0M220.9 295.2h0M221.0 291.9h0M220.9 285.2h0M221.0 289.6h0M221.1 294.7h0M221.1 279.3h0M221.0 273.4h0M221.0 264.7h0M221.1 267.8h0M221.1 267.2h0M221.0 276.7h0M221.1 284.5h0M221.2 293.8h0M221.0 287.6h0M221.0 273.6h0M221.3 282.7h0M221.1 285.5h0M221.3 272.6h0M221.3 271.0h0M221.2 252.5h0M221.3 277.2h0M221.4 287.2h0M221.4 285.1h0M221.1 271.6h0M221.2 276.8h0M221.3 286.6h0M221.1 290.4h0M221.4 283.7h0M221.4 292.4h0M221.3 290.0h0M221.4 282.7h0M221.4 295.5h0M221.3 283.0h0M221.4 284.9h0M221.3 278.0h0M221.3 289.0h0M221.5 290.3h0M221.4 293.5h0M221.5 278.5h0M221.5 282.0h0M221.5 272.9h0M221.3 272.7h0M221.4 290.0h0M221.4 282.2h0M221.4 296.5h0M221.4 289.7h0M221.4 293.5h0M221.5 305.2h0M221.5 295.4h0M221.5 282.4h0M221.7 303.6h0M221.4 271.4h0M221.6 249.8h0M221.6 263.8h0M221.5 298.6h0M221.5 300.2h0M221.4 283.0h0M221.5 288.4h0M221.6 297.3h0M221.7 301.2h0M221.5 289.2h0M221.6 304.2h0M221.5 301.1h0M221.7 295.2h0M221.8 291.6h0M221.7 289.9h0M221.7 287.6h0M221.7 293.2h0M221.6 311.3h0M221.6 288.6h0M221.7 269.2h0M221.6 275.4h0M221.9 278.9h0M221.8 262.5h0M221.6 255.2h0M221.8 247.4h0M221.8 260.7h0M221.9 270.3h0M221.8 248.3h0M221.8 271.1h0M221.8 316.8h0M221.8 262.2h0M221.8 268.7h0M222.0 268.4h0M221.9 265.0h0M222.0 298.2h0M221.8 266.4h0M221.9 266.2h0M222.0 262.8h0M221.8 265.9h0M222.0 249.3h0M222.1 290.9h0M222.1 275.9h0M221.9 272.5h0M221.9 281.6h0M221.9 255.6h0M221.9 264.7h0M222.1 297.9h0M221.9 303.1h0M222.1 285.1h0M222.1 301.0h0M222.1 295.4h0M222.2 288.5h0M222.2 299.4h0M222.2 269.1h0M222.0 286.0h0M222.3 277.0h0M222.1 299.1h0M222.2 294.7h0M222.1 284.8h0M222.1 283.6h0M222.1 273.9h0M222.1 285.6h0M222.1 284.3h0M222.2 278.0h0M222.3 295.5h0M222.3 299.0h0M222.2 296.0h0M222.3 280.3h0M222.4 272.3h0M222.3 270.3h0M222.5 259.6h0M222.4 275.4h0M222.3 284.8h0M222.4 293.7h0M222.4 309.9h0M222.4 304.5h0M222.5 316.4h0M222.4 257.8h0M222.5 308.6h0M222.5 307.6h0M222.6 284.0h0M222.3 292.2h0M222.3 305.2h0M222.4 294.2h0M222.5 277.1h0M222.5 276.7h0M222.4 285.7h0M222.4 285.2h0M222.7 284.9h0M222.6 297.0h0M222.5 280.0h0M222.5 283.9h0M222.4 284.0h0M222.6 291.6h0M222.6 304.3h0M222.5 312.1h0M222.7 299.1h0M222.6 314.9h0M222.5 314.3h0M222.7 302.1h0M222.7 288.0h0M222.6 292.0h0M222.7 297.8h0M222.8 290.9h0M222.8 298.6h0M222.7 308.2h0M222.8 287.0h0M222.8 284.2h0M222.8 265.1h0M222.6 271.9h0M222.7 291.6h0M222.9 291.1h0M222.7 278.4h0M222.7 275.0h0M223.0 289.6h0M222.9 275.9h0M222.9 288.9h0M222.7 311.9h0M222.9 270.3h0M223.0 264.5h0M222.8 275.1h0M223.0 268.5h0M222.8 266.4h0M222.8 259.6h0M223.0 298.0h0M223.0 256.1h0M223.0 262.3h0M223.0 256.1h0M222.8 265.2h0M222.9 262.7h0M222.9 287.3h0M223.1 281.3h0M222.9 284.7h0M223.0 284.5h0M223.0 287.5h0M223.0 273.9h0M223.1 277.6h0M222.9 284.0h0M223.0 269.2h0M223.2 281.6h0M223.0 289.7h0M223.2 274.6h0M223.1 289.8h0M223.2 281.3h0M223.0 288.6h0M223.1 283.5h0M223.2 283.5h0M223.1 310.4h0M223.1 287.4h0M223.2 283.3h0M223.1 305.1h0M223.1 303.3h0M223.3 305.5h0M223.2 314.7h0M223.4 302.1h0M223.2 292.5h0M223.2 307.8h0M223.4 297.9h0M223.3 308.2h0M223.2 288.0h0M223.3 300.5h0M223.2 289.7h0M223.2 313.0h0M223.2 308.2h0M223.3 297.5h0M223.3 282.9h0M223.3 286.4h0M223.3 261.4h0M223.5 261.1h0M223.4 278.8h0M223.3 269.2h0M223.4 292.9h0M223.4 275.3h0M223.5 286.0h0M223.5 300.5h0M223.4 276.7h0M223.5 283.7h0M223.5 285.4h0M223.5 290.8h0M223.4 294.0h0M223.3 312.4h0M223.4 316.2h0M223.5 295.7h0M223.4 313.0h0M223.6 303.6h0M223.5 280.2h0M223.6 283.0h0M223.6 265.9h0M223.5 269.2h0M223.7 286.2h0M223.5 285.4h0M223.6 274.6h0M223.5 292.1h0M223.6 303.7h0M223.5 292.6h0M223.5 298.9h0M223.6 296.1h0M223.6 279.2h0M223.6 288.3h0M223.8 295.6h0M223.5 309.3h0M223.6 307.7h0M223.8 309.3h0M223.8 302.2h0M223.6 297.6h0M223.7 288.1h0M223.7 291.2h0M223.8 286.6h0M223.7 283.7h0M223.8 284.3h0M223.9 279.0h0M223.7 285.7h0M223.7 302.2h0M223.8 305.4h0M223.8 292.2h0M223.8 296.6h0M223.9 295.6h0M223.7 285.6h0M223.9 286.6h0M223.8 281.3h0M223.9 273.4h0M223.9 294.6h0M223.8 281.2h0M223.9 273.9h0M223.8 275.9h0M224.0 259.7h0M223.9 259.8h0M223.9 275.1h0M224.0 286.8h0M223.9 269.7h0M223.8 269.8h0M224.0 266.6h0M223.8 260.6h0M224.1 264.0h0M223.9 262.2h0M224.0 272.4h0M224.0 263.4h0M224.1 281.5h0M224.0 288.2h0M223.9 318.7h0M224.2 317.5h0M224.1 274.8h0M224.0 308.7h0M224.2 288.8h0M224.0 280.4h0M224.2 273.0h0M224.0 283.8h0M224.1 273.0h0M224.1 269.6h0M224.0 288.6h0M224.2 275.4h0M224.2 270.7h0M224.2 288.7h0M224.1 277.9h0M224.1 292.1h0M224.1 293.5h0M224.4 285.3h0M224.3 285.7h0M224.1 292.8h0M224.3 301.4h0M224.2 310.0h0M224.3 300.3h0M224.3 291.4h0M224.3 286.0h0M224.4 283.5h0M224.3 290.1h0M224.2 287.2h0M224.4 277.1h0M224.2 268.1h0M224.2 267.3h0M224.3 280.1h0M224.2 273.1h0M224.3 281.4h0M224.4 294.7h0M224.4 318.2h0M224.4 307.2h0M224.5 312.6h0M224.5 291.1h0M224.3 287.5h0M224.3 302.0h0M224.5 290.6h0M224.5 292.0h0M224.5 288.6h0M224.3 304.8h0M224.3 306.9h0M224.4 306.6h0M224.6 297.1h0M224.5 293.7h0M224.5 290.8h0M224.6 286.0h0M224.5 276.6h0M224.5 281.9h0M224.7 290.4h0M224.5 280.5h0M224.5 283.3h0M224.5 269.3h0M224.7 279.4h0M224.5 276.9h0M224.5 294.1h0M224.6 300.7h0M224.5 285.6h0M224.6 283.1h0M224.7 282.0h0M224.5 299.7h0M224.7 302.1h0M224.7 314.2h0M224.6 296.2h0M224.7 288.5h0M224.6 296.0h0M224.7 311.7h0M224.6 305.7h0M224.6 296.0h0M224.8 295.2h0M224.7 286.1h0M224.8 275.2h0M224.8 290.2h0M224.8 297.9h0M224.8 287.4h0M224.9 273.4h0M224.7 274.3h0M224.7 272.5h0M224.7 317.6h0M224.9 268.4h0M224.9 271.2h0M224.8 288.1h0M224.9 285.2h0M225.0 287.1h0M224.7 278.5h0M224.8 288.8h0M224.9 297.3h0M225.0 308.4h0M225.0 306.6h0M224.8 280.0h0M224.8 286.0h0M224.9 292.3h0M224.8 279.0h0M224.9 288.8h0M225.0 296.4h0M224.8 285.0h0M224.9 290.7h0M225.0 302.5h0M224.9 278.4h0M225.1 275.3h0M224.9 284.1h0M224.9 271.3h0M224.9 274.2h0M224.9 271.3h0M225.1 292.8h0M225.0 276.6h0M225.1 274.0h0M225.0 299.6h0M225.1 274.8h0M224.9 289.4h0M225.1 288.2h0M225.2 294.3h0M225.0 321.2h0M225.2 323.4h0M225.0 299.0h0M225.1 299.4h0M225.1 289.9h0M225.0 297.5h0M225.2 292.7h0M225.1 298.6h0M225.3 307.2h0M225.3 303.4h0M225.1 317.4h0M225.1 321.9h0M225.2 307.7h0M225.1 307.8h0M225.4 303.6h0M225.4 311.9h0M225.4 298.6h0M225.4 308.0h0M225.4 311.4h0M225.4 320.0h0M225.3 308.8h0M225.4 300.6h0M225.4 295.1h0M225.4 286.7h0M225.4 306.2h0M225.3 298.3h0M225.3 309.6h0M225.3 311.0h0M225.5 305.3h0M225.3 310.6h0M225.5 312.0h0M225.3 306.3h0M225.4 287.3h0M225.4 280.0h0M225.4 279.6h0M225.4 295.1h0M225.3 288.2h0M225.3 290.6h0M225.4 297.0h0M225.6 303.0h0M225.6 293.1h0M225.5 285.7h0M225.5 287.0h0M225.6 291.9h0M225.5 291.0h0M225.5 303.8h0M225.4 287.5h0M225.6 307.9h0M225.7 309.2h0M225.5 296.6h0M225.6 305.5h0M225.4 310.9h0M225.4 307.3h0M225.6 301.6h0M225.5 283.9h0M225.6 302.8h0M225.6 280.1h0M225.5 281.4h0M225.6 298.8h0M225.5 293.2h0M225.7 297.9h0M225.5 290.4h0M225.6 298.4h0M225.7 310.3h0M225.7 312.1h0M225.6 319.6h0M225.7 298.8h0M225.6 294.1h0M225.7 291.3h0M225.8 302.3h0M225.7 314.4h0M225.8 303.7h0M225.9 289.1h0M225.7 288.6h0M225.9 303.7h0M225.9 301.5h0M225.7 300.1h0M225.7 310.1h0M225.9 284.2h0M225.8 284.1h0M225.9 295.5h0M226.0 297.2h0M225.7 296.6h0M226.0 300.2h0M226.0 300.8h0M225.9 294.5h0M225.9 301.5h0M225.9 295.4h0M226.0 292.6h0M226.0 314.0h0M225.8 293.9h0M225.9 287.2h0M225.8 291.5h0M226.0 283.4h0M225.9 296.9h0M226.1 301.8h0M225.9 299.1h0M225.9 301.2h0M225.9 306.4h0M225.9 297.8h0M226.1 296.7h0M226.0 291.3h0M226.0 301.5h0M226.2 302.3h0M226.1 295.5h0M226.0 301.3h0M226.1 301.7h0M226.2 298.2h0M226.1 294.9h0M226.1 304.6h0M226.2 310.0h0M226.2 311.9h0M226.1 315.3h0M226.1 315.1h0M226.2 306.3h0M226.1 304.2h0M226.2 281.4h0M226.1 302.2h0M226.2 301.1h0M226.2 309.2h0M226.0 302.6h0M226.1 318.2h0M226.0 318.7h0M226.3 303.4h0M226.3 309.4h0M226.1 316.3h0M226.2 308.3h0M226.2 310.1h0M226.3 311.9h0M226.3 316.6h0M226.1 304.9h0M226.3 312.3h0M226.4 310.2h0M226.2 301.9h0M226.1 315.7h0M226.1 315.4h0M226.3 302.7h0M226.4 303.1h0M226.4 301.0h0M226.2 303.1h0M226.4 300.3h0M226.2 297.2h0M226.5 310.1h0M226.3 309.5h0M226.4 311.8h0M226.3 315.1h0M226.5 314.8h0M226.4 308.0h0M226.4 310.0h0M226.5 304.2h0M226.5 301.8h0M226.3 302.2h0M226.4 298.2h0M226.6 286.3h0M226.4 321.9h0M226.3 295.5h0M226.6 307.5h0M226.5 309.8h0M226.6 317.4h0M226.4 302.3h0M226.5 325.3h0M226.6 314.3h0M226.6 320.8h0M226.5 297.9h0M226.5 298.9h0M226.7 295.3h0M226.5 297.0h0M226.7 302.1h0M226.5 303.0h0M226.6 290.1h0M226.5 289.5h0M226.6 291.1h0M226.5 303.9h0M226.8 307.5h0M226.6 299.1h0M226.5 296.2h0M226.7 304.3h0M226.7 297.4h0M226.8 299.1h0M226.6 294.5h0M226.6 287.1h0M226.8 292.0h0M226.7 287.5h0M226.7 312.6h0M226.8 325.4h0M226.8 319.0h0M226.7 317.0h0M226.7 311.0h0M226.8 319.6h0M226.8 307.2h0M226.7 304.2h0M226.7 307.4h0M226.9 294.0h0M226.8 301.4h0M226.7 305.2h0M227.0 307.0h0M226.7 319.9h0M226.9 319.2h0M227.0 306.2h0M227.0 297.4h0M226.7 299.6h0M227.0 284.5h0M226.9 291.8h0M226.9 284.2h0M227.0 294.4h0M226.8 303.9h0M227.0 294.3h0M226.9 299.7h0M227.0 296.3h0M227.1 308.7h0M226.8 304.7h0M226.9 318.7h0M226.9 322.3h0M227.0 318.3h0M227.1 298.9h0M226.9 308.2h0M227.1 306.8h0M226.9 312.8h0M227.0 319.8h0M227.1 312.2h0M226.9 311.8h0M227.1 299.9h0M227.0 313.9h0M226.9 312.5h0M227.1 314.3h0M227.0 308.9h0M227.1 310.6h0M227.2 317.4h0M227.2 304.0h0M226.9 301.6h0M227.2 309.0h0M227.1 308.4h0M227.3 306.5h0M227.2 302.8h0M227.0 307.9h0M227.2 306.9h0M227.0 318.4h0M227.1 314.5h0M227.0 315.5h0M227.0 314.0h0M227.2 297.4h0M227.2 311.6h0M227.2 311.3h0M227.3 309.6h0M227.1 296.7h0M227.4 312.7h0M227.1 309.1h0M227.3 299.9h0M227.4 294.4h0M227.2 290.7h0M227.3 291.8h0M227.2 292.0h0M227.4 293.5h0M227.4 296.6h0M227.4 292.6h0M227.4 297.0h0M227.3 302.3h0M227.2 300.0h0M227.3 301.5h0M227.4 300.0h0M227.4 306.2h0M227.3 304.2h0M227.3 300.8h0M227.4 310.1h0M227.4 304.5h0M227.3 301.8h0M227.2 298.1h0M227.3 308.8h0M227.5 306.4h0M227.4 306.9h0M227.5 308.2h0M227.4 307.5h0M227.5 299.6h0M227.5 300.1h0M227.4 308.0h0M227.4 303.6h0M227.5 294.4h0M227.6 293.2h0M227.6 293.3h0M227.6 296.0h0M227.5 292.9h0M227.5 306.0h0M227.6 301.2h0M227.6 296.4h0M227.4 305.7h0M227.5 310.3h0M227.4 312.5h0M227.6 318.8h0M227.4 316.8h0M227.6 316.4h0M227.7 307.2h0M227.7 300.4h0M227.5 301.4h0M227.5 294.4h0M227.6 294.7h0M227.7 295.8h0M227.7 301.9h0M227.7 308.5h0M227.8 317.0h0" stroke="#000" stroke-width="2.6" stroke-linecap="round" fill="none"/>
<path d="M317.3 49.3h0M326.4 65.7h0M332.8 66.8h0M337.7 71.6h0M341.8 80.4h0M344.9 89.7h0M347.8 91.0h0M350.7 89.4h0M353.1 84.1h0M355.4 86.3h0M357.3 94.8h0M360.4 97.8h0M362.4 94.8h0M363.6 91.7h0M367.7 98.2h0M364.9 101.7h0M371.2 104.0h0M369.7 105.9h0M369.2 107.9h0M372.2 109.8h0M366.3 110.8h0M377.0 113.2h0M375.1 115.2h0M374.1 117.1h0M380.0 116.6h0M377.0 118.6h0M380.4 120.0h0M380.4 124.4h0M376.8 112.8h0M375.5 115.7h0M379.7 116.9h0M380.8 120.4h0M378.9 125.0h0M381.8 125.9h0M383.3 128.4h0M387.2 126.9h0M387.7 129.3h0M384.7 130.8h0M378.4 133.2h0M381.8 136.0h0M385.7 137.1h0M388.1 134.2h0M394.0 134.0h0M387.7 138.6h0M390.1 140.0h0M391.5 138.1h0M395.4 139.1h0M392.5 142.5h0M390.6 143.9h0M401.8 138.1h0M402.7 140.0h0M400.8 142.0h0M404.2 142.5h0M395.9 143.4h0M380.2 120.2h0M382.4 125.3h0M383.5 126.8h0M386.8 127.5h0M387.5 129.7h0M385.3 130.8h0M378.7 133.0h0M393.7 133.7h0M382.0 135.5h0M387.9 134.8h0M385.3 137.3h0M387.1 137.7h0M389.0 137.7h0M390.8 139.9h0M388.6 141.4h0M390.0 143.2h0M393.3 139.9h0M395.5 139.2h0M392.6 143.5h0M394.8 142.8h0M389.0 145.7h0M396.2 145.7h0M402.1 137.7h0M400.6 141.4h0M402.8 142.1h0M405.0 142.8h0M402.1 145.7h0M406.5 145.7h0M397.7 142.1h0M399.2 144.3h0M393.7 145.0h0M398.5 147.0h0M399.0 150.0h0M398.3 152.5h0M429.3 165.0h0M451.9 218.9h0M439.1 229.2h0M464.2 282.4h0M470.9 281.0h0M465.9 231.6h0M386.5 127.0h0M393.8 134.2h0M398.8 153.0h0M399.0 154.3h0M399.2 147.1h0M399.6 144.0h0M399.9 155.8h0M400.1 152.0h0M400.4 155.1h0M400.8 153.0h0M400.8 148.1h0M401.1 147.3h0M401.3 154.7h0M401.8 152.3h0M402.0 157.3h0M402.3 149.7h0M402.5 153.8h0M402.7 158.5h0M403.0 159.6h0M403.2 153.1h0M403.5 146.3h0M403.6 149.8h0M403.7 147.2h0M403.9 155.2h0M404.2 156.8h0M404.1 152.1h0M404.3 145.2h0M404.4 147.4h0M404.4 154.1h0M404.8 143.8h0M404.8 150.2h0M405.1 158.0h0M405.4 157.0h0M405.5 153.3h0M405.5 155.2h0M405.6 162.9h0M405.8 156.5h0M405.6 156.8h0M405.8 162.1h0M406.3 159.1h0M406.2 157.9h0M406.2 158.1h0M406.2 158.3h0M406.6 155.9h0M406.5 154.6h0M406.8 151.9h0M406.9 153.3h0M407.1 146.3h0M407.2 146.6h0M407.2 150.5h0M407.3 143.6h0M407.5 151.3h0M407.7 159.6h0M407.7 156.5h0M407.8 158.6h0M407.8 155.9h0M408.1 160.5h0M408.3 161.4h0M408.3 161.7h0M408.5 158.7h0M408.6 151.4h0M408.7 147.7h0M408.5 150.6h0M408.7 152.8h0M408.7 153.4h0M409.0 151.3h0M409.0 154.3h0M409.3 160.2h0M409.4 160.4h0M409.4 154.5h0M409.5 156.6h0M409.4 163.5h0M409.9 156.8h0M409.8 160.7h0M410.1 158.3h0M410.2 158.3h0M410.1 161.1h0M410.4 153.8h0M410.4 152.2h0M410.5 154.7h0M410.5 148.6h0M410.7 159.8h0M411.0 155.0h0M411.0 159.2h0M411.2 159.6h0M411.4 160.0h0M411.5 165.2h0M411.6 162.9h0M411.7 153.4h0M411.7 157.5h0M412.0 165.2h0M412.0 159.8h0M412.0 159.7h0M412.0 163.9h0M412.3 166.4h0M412.3 160.1h0M412.3 161.7h0M412.4 160.4h0M412.4 161.6h0M412.6 157.0h0M412.6 154.8h0M412.7 151.1h0M412.8 161.4h0M413.2 158.3h0M413.3 162.4h0M413.2 158.1h0M413.3 159.9h0M413.4 154.5h0M413.4 149.6h0M413.7 159.3h0M413.8 160.1h0M413.9 157.5h0M414.2 154.9h0M414.3 151.5h0M414.4 150.4h0M414.3 158.4h0M414.6 157.3h0M414.8 151.0h0M414.7 168.1h0M414.9 165.9h0M415.2 151.8h0M415.3 154.7h0M415.2 154.7h0M415.3 159.0h0M415.5 160.5h0M415.7 161.2h0M415.7 155.5h0M415.9 159.1h0M416.0 162.0h0M416.1 162.4h0M416.1 163.2h0M416.3 158.8h0M416.3 162.6h0M416.2 166.0h0M416.4 154.6h0M416.4 154.5h0M416.6 159.1h0M416.7 159.2h0M416.7 167.8h0M417.0 169.4h0M416.9 160.7h0M417.1 167.0h0M417.3 170.0h0M417.3 161.5h0M417.3 159.7h0M417.4 162.6h0M417.6 160.6h0M417.8 165.1h0M417.7 167.0h0M418.0 169.8h0M418.0 161.6h0M418.1 155.9h0M418.1 162.2h0M418.3 169.3h0M418.3 169.5h0M418.5 162.1h0M418.5 170.3h0M418.7 161.6h0M418.8 163.4h0M419.0 156.0h0M418.9 155.9h0M418.9 156.0h0M419.1 164.2h0M419.2 163.8h0M419.0 166.9h0M419.1 165.9h0M419.4 173.5h0M419.4 165.9h0M419.4 168.2h0M419.6 163.6h0M419.5 160.9h0M419.5 172.2h0M419.7 169.6h0M419.7 172.6h0M419.8 170.2h0M419.8 174.4h0M420.1 173.1h0M420.1 171.2h0M420.1 161.0h0M420.2 162.4h0M420.3 164.6h0M420.3 168.3h0M420.5 163.1h0M420.7 161.6h0M420.7 159.9h0M420.7 164.5h0M420.9 168.1h0M421.0 167.8h0M420.9 165.0h0M420.9 173.5h0M421.2 172.2h0M421.4 172.5h0M421.3 169.6h0M421.3 167.8h0M421.3 165.6h0M421.3 165.9h0M421.4 174.3h0M421.6 167.5h0M421.5 165.6h0M421.5 167.0h0M421.7 170.8h0M421.8 170.9h0M421.8 176.1h0M421.8 168.8h0M421.9 171.7h0M422.0 164.5h0M422.1 162.1h0M422.2 167.4h0M422.2 163.3h0M422.5 164.1h0M422.5 164.4h0M422.3 159.5h0M422.5 165.2h0M422.7 170.5h0M422.6 168.7h0M422.9 164.0h0M422.8 165.8h0M423.0 167.2h0M423.1 165.5h0M423.2 167.0h0M423.3 167.8h0M423.2 172.7h0M423.4 167.2h0M423.5 166.8h0M423.5 174.8h0M423.6 179.1h0M423.8 170.7h0M423.8 170.0h0M423.9 167.6h0M424.0 160.7h0M424.1 165.9h0M424.2 172.5h0M424.1 168.2h0M424.4 168.2h0M424.5 164.3h0M424.4 162.8h0M424.4 170.2h0M424.7 181.7h0M424.5 179.4h0M424.7 181.3h0M424.6 174.4h0M424.6 179.1h0M424.9 178.9h0M424.8 179.0h0M425.0 183.8h0M425.2 175.4h0M425.3 170.6h0M425.1 186.1h0M425.3 186.3h0M425.3 175.8h0M425.3 183.2h0M425.5 182.6h0M425.5 165.5h0M425.6 175.8h0M425.8 176.8h0M425.6 183.1h0M425.8 178.9h0M425.9 175.9h0M426.0 169.1h0M426.0 171.7h0M425.9 173.3h0M426.0 170.7h0M426.2 170.2h0M426.2 179.4h0M426.1 184.1h0M426.3 185.3h0M426.4 178.4h0M426.6 185.6h0M426.5 174.8h0M426.7 187.0h0M426.6 173.4h0M426.8 185.9h0M426.7 183.5h0M426.7 180.7h0M427.0 188.8h0M427.0 184.0h0M427.0 176.5h0M427.0 173.3h0M427.2 187.5h0M427.3 172.5h0M427.4 169.4h0M427.2 183.8h0M427.2 187.7h0M427.3 188.9h0M427.4 190.3h0M427.5 185.5h0M427.5 189.3h0M427.7 187.1h0M427.6 177.8h0M427.8 181.4h0M427.7 174.2h0M427.9 176.0h0M427.7 182.0h0M427.8 187.9h0M428.0 192.9h0M428.1 186.1h0M428.0 177.3h0M428.2 180.1h0M428.2 190.9h0M428.2 183.0h0M428.2 190.5h0M428.4 172.5h0M428.5 174.9h0M428.4 172.0h0M428.4 169.0h0M428.6 171.9h0M428.6 188.4h0M428.6 171.0h0M428.9 171.0h0M428.8 171.2h0M428.9 176.9h0M428.9 169.9h0M429.0 170.9h0M429.0 168.3h0M429.2 176.9h0M429.2 173.5h0M429.3 180.4h0M429.3 168.6h0M429.5 172.2h0M429.4 177.8h0M429.6 179.8h0M429.4 177.5h0M429.6 168.7h0M429.5 183.4h0M429.7 190.5h0M429.7 188.8h0M429.9 173.3h0M429.9 179.8h0M429.8 183.1h0M430.1 192.1h0M430.0 187.5h0M430.1 179.1h0M430.1 191.5h0M430.1 173.6h0M430.3 177.7h0M430.4 176.3h0M430.2 173.5h0M430.4 174.6h0M430.5 180.9h0M430.6 186.5h0M430.5 186.7h0M430.5 182.6h0M430.6 184.5h0M430.7 180.6h0M430.7 195.7h0M430.8 191.9h0M431.0 192.9h0M431.0 188.4h0M430.9 189.4h0M430.9 187.1h0M431.0 175.1h0M431.3 177.9h0M431.1 183.2h0M431.2 190.9h0M431.4 194.4h0M431.2 192.0h0M431.5 182.5h0M431.4 177.8h0M431.3 189.8h0M431.4 200.4h0M431.6 195.2h0M431.7 183.6h0M431.7 175.1h0M431.7 193.5h0M431.7 191.5h0M431.9 189.5h0M432.0 195.2h0M431.9 199.6h0M432.1 202.4h0M431.8 199.0h0M432.1 198.5h0M432.0 189.7h0M432.1 176.0h0M432.3 175.5h0M432.1 178.4h0M432.1 172.9h0M432.3 173.0h0M432.2 182.1h0M432.2 181.0h0M432.4 178.9h0M432.4 180.2h0M432.5 177.5h0M432.6 181.1h0M432.4 192.3h0M432.6 189.5h0M432.7 184.6h0M432.6 183.0h0M432.7 192.6h0M432.8 191.3h0M432.8 196.0h0M432.8 192.0h0M432.8 198.9h0M432.8 198.9h0M432.9 196.0h0M432.9 190.3h0M433.1 196.3h0M433.2 193.0h0M433.1 191.5h0M433.2 189.7h0M433.2 194.7h0M433.3 194.4h0M433.5 186.6h0M433.5 192.1h0M433.5 190.5h0M433.4 181.0h0M433.4 183.3h0M433.5 199.0h0M433.7 188.5h0M433.6 181.1h0M433.6 184.9h0M433.8 191.5h0M433.9 180.4h0M433.7 178.6h0M433.7 178.4h0M433.8 182.8h0M433.8 175.7h0M434.0 189.4h0M434.1 184.7h0M434.2 200.6h0M434.2 186.2h0M434.1 187.4h0M434.3 194.4h0M434.4 194.9h0M434.3 192.0h0M434.4 186.9h0M434.3 206.2h0M434.5 186.6h0M434.5 203.1h0M434.5 204.0h0M434.5 200.4h0M434.6 194.8h0M434.7 190.0h0M434.6 196.6h0M434.8 205.9h0M434.9 206.6h0M434.9 201.1h0M434.9 196.1h0M434.8 197.4h0M435.0 198.3h0M435.1 207.0h0M434.9 206.1h0M435.1 201.0h0M435.1 200.2h0M435.2 195.0h0M435.3 195.5h0M435.3 209.5h0M435.2 201.5h0M435.2 203.1h0M435.5 197.0h0M435.6 191.7h0M435.3 183.8h0M435.6 183.5h0M435.4 196.8h0M435.4 204.7h0M435.5 202.0h0M435.7 203.2h0M435.6 190.0h0M435.8 188.2h0M435.6 197.1h0M435.8 197.8h0M435.9 186.0h0M435.9 204.3h0M436.0 207.3h0M436.0 207.1h0M436.0 207.1h0M436.0 207.7h0M436.1 195.6h0M436.0 202.8h0M436.2 198.6h0M436.2 201.1h0M436.1 200.9h0M436.2 197.9h0M436.2 207.8h0M436.2 198.7h0M436.4 204.5h0M436.5 206.6h0M436.4 202.7h0M436.7 189.7h0M436.6 202.3h0M436.6 205.3h0M436.6 205.9h0M436.6 192.2h0M436.7 195.7h0M437.0 197.2h0M437.0 192.8h0M437.0 189.0h0M436.9 205.5h0M437.1 208.5h0M437.2 206.7h0M437.2 209.5h0M437.2 203.8h0M437.2 210.6h0M437.2 210.0h0M437.3 200.2h0M437.3 202.8h0M437.4 195.4h0M437.4 205.7h0M437.5 195.5h0M437.5 193.9h0M437.4 190.6h0M437.7 195.3h0M437.6 208.4h0M437.7 197.1h0M437.6 207.2h0M437.8 199.6h0M437.6 204.7h0M437.9 207.3h0M437.8 206.5h0M437.8 207.5h0M437.9 211.7h0M437.8 196.2h0M437.8 195.3h0M438.1 199.7h0M437.9 205.7h0M438.2 197.5h0M438.0 199.0h0M438.2 192.4h0M438.1 195.8h0M438.2 201.1h0M438.2 199.1h0M438.3 204.0h0M438.4 206.8h0M438.6 201.5h0M438.5 198.5h0M438.7 201.3h0M438.6 210.6h0M438.6 209.4h0M438.5 203.4h0M438.7 205.1h0M438.7 198.2h0M438.7 196.8h0M438.7 203.2h0M438.8 206.1h0M438.8 200.8h0M438.9 202.7h0M438.9 204.5h0M439.0 200.0h0M438.9 206.1h0M438.9 210.5h0M439.1 207.4h0M438.9 209.8h0M439.2 202.3h0M439.3 200.9h0M439.2 199.9h0M439.3 215.0h0M439.3 207.0h0M439.3 201.9h0M439.4 206.7h0M439.5 199.4h0M439.3 208.9h0M439.4 197.9h0M439.6 205.6h0M439.6 199.7h0M439.7 203.4h0M439.7 205.8h0M439.5 206.1h0M439.7 212.7h0M439.7 196.9h0M439.8 202.1h0M439.7 213.1h0M439.8 210.4h0M439.6 213.8h0M439.8 215.3h0M439.9 221.1h0M439.8 214.5h0M439.8 211.4h0M440.1 207.9h0M440.0 207.0h0M440.1 214.4h0M440.1 212.9h0M440.2 208.7h0M440.1 199.6h0M440.2 199.9h0M440.4 204.4h0M440.2 206.5h0M440.4 212.1h0M440.2 210.0h0M440.5 208.8h0M440.3 204.2h0M440.5 214.9h0M440.4 218.3h0M440.5 217.6h0M440.5 215.0h0M440.6 217.5h0M440.6 207.9h0M440.6 219.7h0M440.7 212.5h0M440.7 211.3h0M440.7 214.0h0M440.8 215.8h0M440.8 222.5h0M440.8 219.3h0M440.8 222.4h0M441.0 216.0h0M440.9 214.9h0M441.0 209.3h0M441.0 216.6h0M441.0 215.2h0M441.1 214.1h0M441.1 214.1h0M441.1 213.7h0M441.2 203.2h0M441.3 202.6h0M441.3 204.4h0M441.3 209.7h0M441.2 214.0h0M441.2 217.4h0M441.4 216.7h0M441.4 211.3h0M441.5 215.7h0M441.4 215.3h0M441.5 217.2h0M441.4 213.8h0M441.4 209.2h0M441.6 204.8h0M441.6 208.7h0M441.7 209.2h0M441.6 214.7h0M441.6 211.8h0M441.7 214.0h0M441.6 225.3h0M441.6 204.3h0M441.7 202.8h0M441.9 211.5h0M441.9 211.3h0M441.9 215.8h0M442.0 215.1h0M442.0 209.8h0M442.0 212.3h0M442.0 205.4h0M442.0 215.4h0M442.0 212.1h0M442.1 218.9h0M442.2 218.9h0M442.0 211.0h0M442.2 219.3h0M442.1 218.3h0M442.1 212.7h0M442.1 213.4h0M442.2 212.0h0M442.3 212.8h0M442.3 205.3h0M442.4 209.4h0M442.5 208.5h0M442.4 209.9h0M442.4 207.4h0M442.5 210.1h0M442.4 212.8h0M442.5 207.4h0M442.5 212.5h0M442.4 209.9h0M442.7 208.9h0M442.6 209.4h0M442.6 212.2h0M442.7 210.0h0M442.8 214.8h0M442.6 218.2h0M442.8 213.9h0M442.6 213.0h0M442.7 216.3h0M442.8 212.1h0M442.8 220.6h0M442.9 220.8h0M443.0 220.7h0M442.8 222.7h0M442.8 217.4h0M443.0 223.1h0M443.1 224.2h0M442.9 213.5h0M443.1 211.0h0M443.1 219.5h0M443.3 231.2h0M443.0 221.4h0M443.2 231.0h0M443.2 217.5h0M443.3 215.5h0M443.2 221.4h0M443.2 225.9h0M443.2 222.0h0M443.3 228.5h0M443.4 226.2h0M443.4 220.9h0M443.4 219.9h0M443.3 226.0h0M443.6 224.2h0M443.4 214.1h0M443.5 222.9h0M443.7 218.5h0M443.5 212.6h0M443.5 209.3h0M443.5 207.8h0M443.7 215.1h0M443.8 226.3h0M443.8 221.4h0M443.9 221.7h0M443.9 216.4h0M444.0 221.4h0M444.0 218.9h0M443.9 223.5h0M444.0 223.3h0M444.0 216.6h0M444.1 217.5h0M444.0 216.5h0M444.0 213.7h0M444.1 211.6h0M444.1 211.5h0M444.1 216.1h0M444.3 215.2h0M444.2 216.8h0M444.2 224.4h0M444.3 214.1h0M444.3 217.0h0M444.3 223.1h0M444.3 214.9h0M444.5 224.8h0M444.4 226.3h0M444.5 216.9h0M444.6 217.1h0M444.5 230.7h0M444.5 231.7h0M444.6 222.0h0M444.6 216.5h0M444.5 215.6h0M444.7 220.3h0M444.5 219.2h0M444.8 216.8h0M444.9 219.0h0M444.7 216.6h0M444.7 212.3h0M445.0 210.8h0M445.0 213.1h0M445.0 215.6h0M444.9 219.3h0M444.8 215.2h0M444.9 209.7h0M444.8 212.3h0M445.1 214.2h0M445.1 222.8h0M445.0 219.8h0M445.1 212.0h0M445.2 210.7h0M445.0 216.3h0M445.3 217.4h0M445.2 219.4h0M445.3 220.6h0M445.3 225.4h0M445.3 227.8h0M445.3 234.8h0M445.5 225.5h0M445.4 215.6h0M445.5 218.6h0M445.5 221.3h0M445.5 229.4h0M445.5 229.2h0M445.6 228.1h0M445.6 230.6h0M445.5 220.4h0M445.8 221.4h0M445.7 229.9h0M445.9 225.3h0M445.7 231.1h0M445.9 233.6h0M445.8 234.7h0M445.8 224.6h0M446.0 228.3h0M446.0 215.8h0M445.9 232.2h0M446.0 224.5h0M446.0 229.3h0M446.2 228.9h0M446.1 231.1h0M446.0 221.1h0M446.1 226.1h0M446.3 225.2h0M446.2 228.7h0M446.1 231.2h0M446.3 228.1h0M446.3 228.3h0M446.3 235.9h0M446.2 232.2h0M446.4 234.6h0M446.4 233.7h0M446.4 229.0h0M446.5 223.0h0M446.6 224.6h0M446.4 231.0h0M446.4 223.3h0M446.7 228.3h0M446.6 224.1h0M446.5 227.3h0M446.7 227.7h0M446.6 227.8h0M446.7 225.6h0M446.5 227.2h0M446.6 230.2h0M446.6 227.4h0M446.8 219.9h0M446.6 223.7h0M446.7 225.6h0M446.7 227.1h0M446.9 236.5h0M446.9 216.7h0M447.0 227.3h0M446.8 216.1h0M447.0 223.7h0M446.8 229.1h0M447.0 228.5h0M446.9 223.4h0M447.2 226.2h0M447.0 221.1h0M447.0 222.1h0M446.9 216.3h0M447.2 229.0h0M447.2 224.5h0M447.3 230.5h0M447.2 224.5h0M447.2 237.0h0M447.2 221.0h0M447.4 223.6h0M447.2 231.0h0M447.3 227.1h0M447.2 214.1h0M447.3 223.8h0M447.4 220.9h0M447.5 228.9h0M447.4 226.2h0M447.6 227.8h0M447.6 235.6h0M447.5 226.2h0M447.6 219.2h0M447.5 214.9h0M447.7 215.9h0M447.6 219.3h0M447.6 225.6h0M447.6 230.5h0M447.8 222.4h0M447.7 224.3h0M447.8 222.5h0M447.8 221.9h0M447.9 224.5h0M447.8 221.7h0M447.8 223.4h0M448.0 227.7h0M447.8 225.0h0M447.8 226.1h0M448.1 240.1h0M448.0 231.3h0M448.1 221.6h0M448.0 226.5h0M448.0 218.6h0M448.1 225.4h0M448.2 223.9h0M448.2 228.7h0M448.3 226.1h0M448.1 228.4h0M448.4 228.7h0M448.3 230.8h0M448.3 234.9h0M448.2 240.3h0M448.2 230.9h0M448.3 223.5h0M448.3 223.0h0M448.5 236.3h0M448.5 238.1h0M448.4 224.0h0M448.6 223.6h0M448.6 236.8h0M448.5 229.4h0M448.6 233.0h0M448.7 228.7h0M448.7 241.5h0M448.6 248.4h0M448.8 245.5h0M448.6 240.1h0M448.6 242.3h0M448.8 249.4h0M448.7 242.8h0M448.8 246.7h0M449.0 237.9h0M449.0 242.8h0M448.8 240.1h0M449.0 237.5h0M448.8 243.4h0M448.9 249.0h0M448.9 246.5h0M448.9 237.9h0M449.0 225.7h0M448.9 231.3h0M449.0 235.4h0M449.2 230.9h0M449.1 229.8h0M449.2 237.7h0M449.1 233.9h0M449.3 240.1h0M449.2 241.0h0M449.1 234.0h0M449.4 248.7h0M449.2 241.4h0M449.4 243.7h0M449.4 243.3h0M449.4 237.3h0M449.4 247.6h0M449.4 248.6h0M449.5 247.5h0M449.5 247.3h0M449.5 245.1h0M449.5 240.6h0M449.6 241.0h0M449.5 227.9h0M449.6 220.8h0M449.6 232.8h0M449.4 226.5h0M449.6 234.1h0M449.7 239.7h0M449.6 231.1h0M449.7 230.3h0M449.7 228.0h0M449.8 231.8h0M449.7 220.8h0M449.7 224.2h0M449.6 231.1h0M449.8 241.7h0M449.7 232.9h0M449.9 242.5h0M450.0 241.2h0M449.7 233.9h0M449.8 227.6h0M450.0 238.1h0M449.8 226.8h0M449.9 230.5h0M450.0 228.2h0M449.9 237.8h0M450.0 241.5h0M450.1 228.6h0M449.9 235.9h0M450.0 238.6h0M450.2 243.3h0M450.1 244.3h0M450.2 242.5h0M450.2 242.4h0M450.2 233.5h0M450.1 231.7h0M450.3 232.8h0M450.1 228.1h0M450.2 234.8h0M450.4 232.3h0M450.4 233.7h0M450.4 232.1h0M450.3 239.6h0M450.3 239.0h0M450.5 237.7h0M450.4 226.0h0M450.3 234.1h0M450.5 232.2h0M450.4 236.2h0M450.5 233.5h0M450.4 236.0h0M450.5 235.7h0M450.5 224.5h0M450.6 240.0h0M450.5 235.5h0M450.5 229.8h0M450.5 238.8h0M450.6 237.7h0M450.7 230.7h0M450.6 229.0h0M450.6 234.3h0M450.8 244.0h0M450.9 221.6h0M450.6 240.9h0M450.8 238.8h0M450.7 235.6h0M450.9 224.5h0M451.0 251.9h0M450.9 236.2h0M451.0 228.6h0M451.1 239.8h0M451.1 231.5h0M450.9 226.0h0M451.0 231.9h0M450.9 240.7h0M450.9 239.6h0M451.2 240.8h0M451.2 241.5h0M451.1 240.0h0M451.2 241.6h0M451.1 224.8h0M451.1 237.8h0M451.1 229.0h0M451.2 232.6h0M451.1 239.0h0M451.2 249.5h0M451.3 249.4h0M451.4 233.2h0M451.2 236.8h0M451.3 229.9h0M451.3 229.7h0M451.4 226.0h0M451.4 238.8h0M451.4 242.4h0M451.6 235.0h0M451.3 238.1h0M451.4 240.3h0M451.5 239.7h0M451.5 243.5h0M451.4 238.4h0M451.4 245.5h0M451.6 242.8h0M451.5 237.4h0M451.7 240.7h0M451.4 245.1h0M451.7 240.5h0M451.6 246.5h0M451.5 242.0h0M451.6 234.5h0M451.7 234.7h0M451.8 238.7h0M451.7 239.7h0M451.7 231.6h0M451.8 241.6h0M451.8 227.9h0M451.8 240.9h0M451.8 232.9h0M451.8 236.8h0M451.7 233.8h0M452.0 242.7h0M452.0 229.9h0M452.0 233.2h0M451.8 237.9h0M452.1 247.3h0M452.1 249.8h0M451.9 238.4h0M452.1 241.3h0M452.1 241.6h0M452.2 238.6h0M452.1 251.6h0M451.9 241.4h0M452.1 233.1h0M452.0 239.9h0M452.1 246.3h0M452.1 235.8h0M452.0 237.5h0M452.3 237.5h0M452.3 231.5h0M452.3 229.8h0M452.3 228.3h0M452.3 233.2h0M452.2 234.9h0M452.4 241.7h0M452.2 244.4h0M452.3 243.7h0M452.4 244.5h0M452.5 245.0h0M452.4 232.1h0M452.4 228.9h0M452.4 247.7h0M452.6 236.7h0M452.5 246.1h0M452.5 233.6h0M452.4 230.3h0M452.6 228.4h0M452.6 231.7h0M452.5 235.1h0M452.6 228.7h0M452.7 246.9h0M452.8 252.1h0M452.7 242.2h0M452.8 232.3h0M452.5 229.9h0M452.8 236.1h0M452.8 237.8h0M452.8 250.8h0M452.8 242.0h0M452.8 235.6h0M452.8 240.2h0M452.8 232.2h0M452.8 246.2h0M452.8 249.4h0M452.9 240.5h0M452.8 244.6h0M452.9 233.1h0M453.1 234.9h0M453.0 234.1h0M453.1 228.6h0M452.9 229.9h0M453.1 222.2h0M453.2 231.0h0M453.0 221.0h0M453.1 229.0h0M453.2 234.1h0M453.2 232.1h0M453.1 234.2h0M453.2 232.7h0M453.2 226.3h0M453.1 222.6h0M453.1 225.0h0M453.2 221.7h0M453.3 230.4h0M453.4 239.4h0M453.2 247.5h0M453.3 240.4h0M453.4 229.6h0M453.3 232.8h0M453.5 243.2h0M453.5 237.9h0M453.5 236.4h0M453.4 242.6h0M453.4 243.5h0M453.6 229.3h0M453.4 233.7h0M453.4 232.4h0M453.6 233.0h0M453.5 239.1h0M453.5 232.5h0M453.7 230.6h0M453.5 237.6h0M453.7 237.5h0M453.7 229.3h0M453.7 232.8h0M453.6 245.1h0M453.6 233.8h0M453.8 244.2h0M453.9 246.6h0M453.7 243.0h0M453.7 243.4h0M453.7 225.0h0M453.8 229.3h0M453.9 232.7h0M454.0 234.0h0M454.0 241.5h0M453.9 239.9h0M454.0 231.1h0M453.9 222.1h0M454.0 230.2h0M454.1 246.9h0M454.0 247.0h0M454.0 234.2h0M454.2 233.9h0M454.0 245.8h0M454.2 229.2h0M454.2 228.2h0M454.3 238.8h0M454.0 248.8h0M454.2 244.6h0M454.1 237.7h0M454.1 242.2h0M454.1 240.5h0M454.1 242.9h0M454.3 237.1h0M454.4 249.8h0M454.4 243.5h0M454.5 239.0h0M454.3 244.8h0M454.3 252.0h0M454.5 251.1h0M454.5 247.9h0M454.3 235.6h0M454.6 242.6h0M454.3 239.7h0M454.4 235.1h0M454.4 234.4h0M454.4 244.9h0M454.5 232.3h0M454.4 225.1h0M454.6 231.7h0M454.7 233.1h0M454.6 244.3h0M454.6 249.0h0M454.6 250.1h0M454.5 247.7h0M454.7 245.8h0M454.6 225.4h0M454.6 228.8h0M454.8 234.8h0M454.8 241.3h0M454.8 236.3h0M454.9 244.5h0M454.8 247.9h0M454.9 247.6h0M454.9 235.3h0M454.7 240.9h0M454.8 221.1h0M454.8 233.5h0M454.9 222.2h0M455.0 230.1h0M454.8 234.4h0M455.0 235.1h0M454.8 237.0h0M455.0 229.5h0M454.8 233.1h0M454.9 241.9h0M454.9 243.0h0M455.0 242.7h0M455.0 233.9h0M454.9 240.2h0M455.1 244.6h0M454.9 237.8h0M455.2 230.1h0M455.1 240.7h0M455.0 247.8h0M455.1 243.5h0M455.2 243.6h0M455.1 246.1h0M455.2 238.6h0M455.2 236.3h0M455.4 231.1h0M455.3 227.7h0M455.2 232.6h0M455.4 222.9h0M455.2 229.5h0M455.2 238.2h0M455.4 239.5h0M455.3 240.2h0M455.5 241.9h0M455.4 233.5h0M455.3 234.5h0M455.5 242.2h0M455.4 237.7h0M455.5 237.9h0M455.5 237.3h0M455.6 252.7h0M455.6 250.1h0M455.5 250.1h0M455.6 233.0h0M455.7 235.1h0M455.7 236.5h0M455.6 233.7h0M455.6 225.3h0M455.8 230.2h0M455.6 231.2h0M455.7 243.1h0M455.9 240.1h0M455.6 238.1h0M455.9 232.4h0M455.7 224.7h0M455.7 223.8h0M455.8 235.0h0M455.9 226.6h0M455.9 231.0h0M455.8 235.3h0M455.8 231.4h0M455.9 241.7h0M456.1 239.6h0M455.8 239.9h0M456.1 240.6h0M456.0 231.3h0M456.2 240.7h0M456.1 238.8h0M456.1 225.3h0M456.0 228.0h0M456.2 220.3h0M456.2 225.8h0M456.2 231.0h0M456.1 237.4h0M456.2 228.7h0M456.2 237.5h0M456.2 228.7h0M456.3 243.6h0M456.2 247.1h0M456.4 238.8h0M456.4 252.2h0M456.4 244.6h0M456.3 232.8h0M456.5 231.7h0M456.2 231.5h0M456.4 219.5h0M456.5 229.3h0M456.5 232.1h0M456.3 242.9h0M456.4 241.9h0M456.5 237.8h0M456.4 228.2h0M456.6 244.4h0M456.4 229.5h0M456.6 228.7h0M456.5 235.8h0M456.6 227.8h0M456.5 238.3h0M456.7 240.8h0M456.6 232.4h0M456.5 243.4h0M456.7 256.4h0M456.7 251.8h0M456.7 243.9h0M456.8 240.9h0M456.8 244.6h0M456.6 239.9h0M456.9 238.0h0M456.6 244.7h0M456.8 245.0h0M456.7 240.8h0M457.0 225.5h0M456.8 235.5h0M456.7 227.3h0M456.7 233.0h0M456.8 219.8h0M456.9 236.5h0M456.9 239.7h0M456.9 237.8h0M457.0 227.1h0M457.1 223.8h0M457.0 236.8h0M456.9 228.4h0M457.0 237.0h0M457.0 233.1h0M456.9 222.1h0M457.1 228.4h0M457.0 228.4h0M457.0 219.3h0M457.0 219.2h0M457.2 223.9h0M457.2 232.2h0M457.1 234.0h0M457.1 239.1h0M457.1 231.4h0M457.3 235.2h0M457.2 236.1h0M457.1 248.0h0M457.4 231.6h0M457.4 240.0h0M457.3 243.8h0M457.2 238.9h0M457.2 234.6h0M457.5 243.5h0M457.3 236.8h0M457.3 238.7h0M457.4 229.7h0M457.3 237.3h0M457.5 251.5h0M457.4 243.8h0M457.4 241.7h0M457.4 235.3h0M457.6 244.2h0M457.5 239.5h0M457.4 238.3h0M457.4 239.5h0M457.7 235.8h0M457.7 237.2h0M457.5 229.8h0M457.6 219.7h0M457.7 225.6h0M457.7 225.9h0M457.5 229.6h0M457.6 243.5h0M457.7 248.8h0M457.7 238.4h0M457.6 243.9h0M457.8 230.6h0M457.6 239.7h0M457.8 244.2h0M457.6 239.3h0M457.6 235.5h0M457.8 241.8h0M457.7 245.3h0M457.9 247.4h0M457.7 240.6h0M457.7 247.7h0M457.9 247.5h0M457.9 244.1h0M457.8 235.8h0M457.8 228.6h0M457.8 240.8h0M457.9 240.5h0M458.0 244.0h0M457.9 235.5h0M457.8 232.0h0M458.1 232.7h0M457.9 242.1h0M458.0 233.1h0M457.9 218.8h0M457.9 218.8h0M458.0 219.5h0M458.1 232.3h0M458.0 241.0h0M458.1 233.9h0M458.0 241.9h0M458.0 238.8h0M458.1 240.9h0M458.1 241.7h0M458.2 238.9h0M458.0 233.0h0M458.2 242.0h0M458.0 236.5h0M458.1 242.9h0M458.3 227.0h0M458.2 236.5h0M458.1 233.5h0M458.2 226.6h0M458.2 235.9h0M458.1 239.8h0M458.2 232.7h0M458.2 226.5h0M458.2 232.1h0M458.2 238.9h0M458.4 245.2h0M458.3 226.7h0M458.2 230.9h0M458.3 237.9h0M458.4 231.6h0M458.4 232.2h0M458.4 230.9h0M458.5 223.0h0M458.5 224.0h0M458.5 226.4h0M458.4 220.8h0M458.6 223.6h0M458.5 227.4h0M458.7 229.1h0M458.6 225.4h0M458.6 221.0h0M458.7 227.7h0M458.5 226.5h0M458.6 227.5h0M458.6 230.5h0M458.8 232.7h0M458.7 228.6h0M458.7 226.1h0M458.8 232.1h0M458.8 231.8h0M458.7 235.2h0M458.7 230.9h0M458.8 230.2h0M458.6 224.9h0M458.8 229.2h0M458.8 230.5h0M458.9 227.3h0M458.7 229.7h0M458.7 241.1h0M458.8 234.0h0M458.8 222.9h0M458.9 235.9h0M458.7 237.7h0M459.0 230.7h0M459.0 222.8h0M458.7 227.7h0M458.7 226.4h0M458.8 225.1h0M459.0 235.4h0M458.9 242.3h0M458.9 242.1h0M458.8 232.6h0M459.0 233.3h0M458.9 236.7h0M459.0 234.1h0M459.1 243.1h0M459.1 235.6h0M458.9 224.5h0M459.1 229.2h0M459.1 230.1h0M459.1 232.4h0M459.1 239.2h0M459.0 232.1h0M459.0 246.8h0M459.1 243.7h0M459.3 236.3h0M459.2 245.5h0M459.1 247.5h0M459.3 226.4h0M459.4 223.3h0M459.3 237.1h0M459.2 235.5h0M459.4 230.0h0M459.3 234.7h0M459.2 239.2h0M459.3 237.3h0M459.3 242.1h0M459.3 240.7h0M459.2 229.9h0M459.4 236.9h0M459.3 236.2h0M459.4 234.3h0M459.4 234.0h0M459.5 245.1h0M459.5 238.2h0M459.4 239.9h0M459.6 243.0h0M459.4 249.7h0M459.7 249.0h0M459.4 235.5h0M459.4 226.1h0M459.6 225.0h0M459.7 235.8h0M459.4 238.9h0M459.6 233.3h0M459.7 250.9h0M459.6 247.4h0M459.7 246.0h0M459.7 245.5h0M459.7 234.5h0M459.8 238.7h0M459.6 238.2h0M459.7 232.2h0M459.6 235.7h0M459.6 244.3h0M459.9 237.2h0M459.9 233.5h0M459.7 236.0h0M459.8 225.5h0M459.7 229.3h0M460.0 231.5h0M459.8 240.0h0M459.9 237.7h0M460.0 235.2h0M460.1 231.0h0M459.8 242.7h0M459.8 236.2h0M460.0 234.5h0M460.1 236.1h0M459.8 228.7h0M460.0 234.7h0M460.1 241.2h0M460.0 253.1h0M460.1 245.4h0M459.9 238.3h0M460.1 232.5h0M460.2 230.8h0M460.2 224.4h0M460.0 238.7h0M460.2 231.7h0M460.0 240.1h0M460.2 251.2h0M460.1 234.2h0M460.1 240.7h0M460.2 226.0h0M460.1 241.3h0M460.1 242.9h0M460.3 254.2h0M460.1 245.3h0M460.2 253.1h0M460.3 229.3h0M460.1 254.7h0M460.3 229.1h0M460.3 244.0h0M460.3 244.0h0M460.1 241.1h0M460.2 234.4h0M460.3 238.1h0M460.4 239.4h0M460.3 246.0h0M460.2 244.0h0M460.2 253.3h0M460.4 246.2h0M460.3 233.0h0M460.4 240.4h0M460.5 247.2h0M460.4 252.2h0M460.3 243.2h0M460.3 235.6h0M460.3 231.1h0M460.5 235.5h0M460.3 232.4h0M460.3 242.7h0M460.3 248.1h0M460.3 233.7h0M460.6 239.9h0M460.6 229.8h0M460.7 228.4h0M460.6 243.1h0M460.5 243.6h0M460.6 243.6h0M460.4 237.2h0M460.7 236.9h0M460.7 244.0h0M460.7 236.3h0M460.6 248.3h0M460.6 235.5h0M460.7 245.7h0M460.6 235.6h0M460.7 240.5h0M460.6 243.8h0M460.8 236.4h0M460.7 235.3h0M460.7 244.8h0M460.7 245.3h0M460.7 248.7h0M460.7 238.6h0M460.9 240.9h0M460.9 255.0h0M460.8 257.9h0M460.9 246.6h0M460.7 235.8h0M460.7 245.4h0M461.0 250.9h0M460.8 252.9h0M460.7 257.7h0M461.0 257.5h0M461.0 247.1h0M461.0 241.1h0M461.0 243.1h0M460.8 233.5h0M460.9 243.5h0M461.1 248.6h0M460.8 250.5h0M461.0 245.0h0M461.1 252.5h0M461.1 238.8h0M461.0 255.9h0M461.0 255.2h0M461.2 245.3h0M461.1 257.1h0M461.0 254.6h0M461.2 251.3h0M461.0 256.4h0M461.1 245.6h0M461.0 224.7h0M461.2 244.3h0M461.0 235.9h0M461.3 233.5h0M461.3 244.5h0M461.1 252.8h0M461.3 245.6h0M461.1 235.1h0M461.1 240.4h0M461.3 232.3h0M461.1 241.1h0M461.2 255.6h0M461.2 246.2h0M461.2 242.8h0M461.2 235.6h0M461.4 245.4h0M461.3 245.2h0M461.3 242.0h0M461.3 232.6h0M461.5 232.5h0M461.3 242.5h0M461.3 233.7h0M461.5 229.3h0M461.5 243.0h0M461.4 248.6h0M461.5 249.3h0M461.6 245.5h0M461.4 237.8h0M461.6 241.8h0M461.6 238.6h0M461.4 254.8h0M461.5 255.9h0M461.6 259.6h0M461.5 258.0h0M461.5 254.1h0M461.5 260.3h0M461.5 236.2h0M461.5 230.0h0M461.7 242.3h0M461.8 254.2h0M461.8 240.2h0M461.8 244.2h0M461.8 256.8h0M461.7 262.1h0M461.6 236.9h0M461.7 248.7h0M461.8 247.2h0M461.7 251.9h0M461.9 244.6h0M462.0 248.5h0M461.9 234.1h0M461.7 239.8h0M461.7 248.2h0M461.9 240.7h0M461.8 245.6h0M461.9 251.2h0M461.8 254.7h0M461.9 242.9h0M462.0 245.0h0M461.8 240.5h0M461.9 243.2h0M462.0 237.7h0M462.0 246.7h0M462.1 241.6h0M462.1 229.6h0M462.0 241.6h0M462.0 258.7h0M462.1 240.7h0M462.0 249.9h0M462.1 232.5h0M462.0 248.3h0M462.1 251.8h0M462.0 230.1h0M462.0 236.0h0M462.2 229.4h0M462.0 233.8h0M462.2 232.8h0M462.2 243.1h0M462.3 232.7h0M462.2 252.9h0M462.3 230.7h0M462.2 229.9h0M462.3 231.9h0M462.2 247.5h0M462.3 234.7h0M462.1 235.8h0M462.2 252.6h0M462.2 234.2h0M462.3 242.0h0M462.4 250.8h0M462.4 253.0h0M462.3 238.1h0M462.4 236.3h0M462.3 233.8h0M462.2 243.1h0M462.5 227.8h0M462.5 244.4h0M462.5 246.6h0M462.4 253.8h0M462.6 261.4h0M462.3 257.6h0M462.4 262.9h0M462.6 235.0h0M462.3 241.1h0M462.5 248.0h0M462.5 251.4h0M462.4 265.4h0M462.7 253.7h0M462.5 230.0h0M462.6 259.4h0M462.4 240.7h0M462.6 248.9h0M462.6 251.9h0M462.5 251.1h0M462.5 233.7h0M462.7 244.8h0M462.6 253.6h0M462.6 249.0h0M462.6 246.4h0M462.6 257.0h0M462.6 251.1h0M462.6 248.4h0M462.8 267.6h0M462.7 269.4h0M462.8 248.5h0M462.6 268.1h0M462.8 264.5h0M462.8 256.7h0M462.9 244.8h0M462.8 249.3h0M462.7 253.8h0M462.9 249.0h0M462.7 252.5h0M462.8 257.7h0M462.9 243.7h0M462.9 248.4h0M462.9 252.4h0M463.0 251.1h0M462.8 236.7h0M463.0 248.0h0M462.9 250.1h0M463.0 243.7h0M463.0 262.3h0M462.9 254.3h0M463.1 256.2h0M463.0 258.0h0M463.1 255.8h0M463.1 265.3h0M462.9 267.2h0M463.0 253.8h0M463.0 258.4h0M463.0 242.5h0M463.1 240.4h0M463.2 249.7h0M463.3 244.6h0M463.1 267.3h0M463.3 244.4h0M463.2 249.3h0M463.0 242.3h0M463.2 253.3h0M463.1 258.2h0M463.3 250.1h0M463.2 239.9h0M463.4 246.5h0M463.1 255.1h0M463.2 262.5h0M463.2 257.6h0M463.1 249.8h0M463.2 263.7h0M463.4 268.0h0M463.4 259.0h0M463.2 252.8h0M463.4 244.2h0M463.3 259.2h0M463.2 252.3h0M463.2 249.5h0M463.2 254.8h0M463.4 267.3h0M463.4 263.9h0M463.4 266.4h0M463.6 255.8h0M463.3 243.0h0M463.4 245.9h0M463.4 228.8h0M463.3 264.9h0M463.5 246.8h0M463.4 229.8h0M463.4 238.0h0M463.4 239.9h0M463.5 235.3h0M463.6 249.7h0M463.6 261.5h0M463.4 262.5h0M463.5 248.9h0M463.5 236.1h0M463.6 249.2h0M463.6 245.2h0M463.8 230.1h0M463.6 252.9h0M463.8 244.3h0M463.6 236.6h0M463.7 250.0h0M463.5 248.6h0M463.6 253.9h0M463.8 260.1h0M463.7 261.1h0M463.7 271.5h0M463.7 269.9h0M463.6 259.1h0M463.8 256.0h0M463.7 259.5h0M463.8 248.5h0M463.9 246.1h0M463.7 241.8h0M463.8 240.7h0M463.7 237.3h0M463.8 236.7h0M463.9 255.1h0M463.9 261.6h0M463.8 265.1h0M463.9 253.5h0M464.0 264.0h0M463.9 266.0h0M463.9 262.5h0M463.8 272.2h0M463.8 232.2h0M463.8 259.2h0M464.1 267.7h0M464.0 264.2h0M464.0 268.1h0M464.1 266.6h0M464.1 260.0h0M464.0 258.6h0M464.0 241.2h0M463.9 246.7h0M464.0 247.7h0M464.0 235.1h0M464.2 238.2h0M464.2 235.4h0M463.9 248.8h0M464.0 248.1h0M464.2 249.9h0M464.1 247.0h0M464.0 243.7h0M464.1 251.8h0M464.3 252.5h0M464.3 239.8h0M464.0 240.4h0M464.1 257.9h0M464.3 266.5h0M464.3 261.8h0M464.2 238.1h0M464.1 239.0h0M464.3 248.0h0M464.1 250.7h0M464.3 246.5h0M464.3 264.0h0M464.4 266.2h0M464.4 235.8h0M464.3 273.6h0M464.3 271.8h0M464.2 268.0h0M464.3 260.7h0M464.5 255.6h0M464.3 244.0h0M464.3 250.8h0M464.5 263.9h0M464.3 255.5h0M464.4 253.8h0M464.5 255.3h0M464.4 263.5h0M464.5 264.3h0M464.5 259.4h0M464.4 235.6h0M464.4 237.8h0M464.4 247.7h0M464.6 239.7h0M464.6 243.0h0M464.5 267.9h0M464.6 236.3h0M464.5 258.1h0M464.5 267.6h0M464.5 253.8h0M464.7 247.2h0M464.5 252.1h0M464.7 269.3h0M464.7 252.5h0M464.6 245.7h0M464.7 249.4h0M464.5 237.2h0M464.6 247.5h0M464.6 256.7h0M464.8 242.2h0M464.6 257.5h0M464.7 269.1h0M464.8 261.5h0M464.8 252.5h0M464.6 251.6h0M464.8 243.0h0M464.6 233.0h0M464.7 239.3h0M464.8 244.3h0M464.9 264.0h0M464.9 255.5h0M464.9 273.1h0M464.8 258.7h0M464.9 242.5h0M464.7 252.2h0M464.8 239.7h0M465.0 244.7h0M465.0 238.8h0M465.0 246.4h0M464.9 269.7h0M464.9 262.2h0M464.9 264.5h0M464.9 251.3h0M464.9 243.2h0M465.1 245.9h0M464.9 237.9h0M465.1 252.7h0M465.0 243.2h0M464.9 233.0h0M465.1 245.7h0M465.0 244.8h0M465.0 262.3h0M465.0 241.1h0M464.9 239.1h0M465.0 263.6h0M465.1 262.4h0M465.0 261.0h0M465.2 247.4h0M465.2 261.6h0M465.0 243.6h0M465.2 244.7h0M465.2 246.7h0M465.2 272.3h0M465.1 253.7h0M465.3 234.5h0M465.1 254.4h0M465.2 244.5h0M465.3 238.1h0M465.4 271.2h0M465.2 240.7h0M465.3 257.4h0M465.2 273.2h0M465.3 250.8h0M465.2 251.6h0M465.4 250.4h0M465.2 235.4h0M465.3 249.3h0M465.2 251.4h0M465.4 249.7h0M465.2 243.0h0M465.5 242.7h0M465.5 245.7h0M465.3 253.1h0M465.5 258.4h0M465.3 269.8h0M465.3 265.8h0M465.5 238.8h0M465.3 274.8h0M465.5 265.7h0M465.5 253.4h0M465.4 261.6h0M465.5 260.9h0M465.6 251.4h0M465.4 259.2h0M465.6 258.8h0M465.4 259.6h0M465.5 273.7h0M465.5 272.2h0M465.6 251.5h0M465.6 238.9h0M465.6 258.6h0M465.6 257.5h0M465.7 245.7h0M465.7 252.4h0M465.6 240.8h0M465.5 235.3h0M465.6 263.1h0M465.6 258.7h0M465.6 243.1h0M465.8 244.2h0M465.7 241.6h0M465.6 239.0h0M465.6 237.5h0M465.6 234.0h0M465.8 238.1h0M465.6 235.6h0M465.6 240.5h0M465.7 252.6h0M465.7 260.4h0M465.9 255.1h0M465.9 262.0h0M465.7 252.5h0M465.7 247.8h0M466.0 248.3h0M465.7 249.4h0M465.7 238.1h0M465.7 260.7h0M465.9 246.1h0M466.0 266.3h0M466.0 256.6h0M466.0 257.4h0M465.9 262.5h0M465.9 259.5h0M466.0 254.2h0M466.0 260.9h0M466.1 244.2h0M465.8 247.7h0M466.0 254.8h0M466.0 259.4h0M465.9 241.5h0M466.1 260.7h0M466.0 264.6h0M466.0 254.8h0M466.1 248.6h0M465.9 262.3h0M466.1 259.3h0M466.0 252.4h0M466.0 250.5h0M466.0 263.3h0M466.2 246.0h0M466.1 240.8h0M466.2 259.7h0M466.1 249.4h0M466.3 266.6h0M466.2 252.7h0M466.0 274.9h0M466.2 261.6h0M466.1 260.7h0M466.3 256.9h0M466.2 259.3h0M466.3 256.3h0M466.3 267.2h0M466.3 254.9h0M466.3 259.4h0M466.3 261.3h0M466.3 258.0h0M466.1 276.6h0M466.4 272.8h0M466.1 257.5h0M466.4 275.9h0M466.2 271.5h0M466.3 262.7h0M466.4 271.8h0M466.3 246.7h0M466.4 241.8h0M466.4 237.7h0M466.5 243.9h0M466.5 250.9h0M466.5 259.2h0M466.3 237.6h0M466.5 240.2h0M466.4 240.2h0M466.5 258.9h0M466.5 237.5h0M466.5 255.4h0M466.6 259.7h0M466.5 247.5h0M466.4 260.8h0M466.5 251.0h0M466.6 257.3h0M466.6 259.2h0M466.5 258.7h0M466.5 247.7h0M466.5 256.8h0M466.4 273.7h0M466.6 272.3h0M466.5 262.6h0M466.6 257.6h0M466.7 253.6h0M466.6 255.8h0M466.6 256.6h0M466.5 252.6h0M466.6 239.5h0M466.6 253.5h0M466.6 258.3h0M466.7 262.4h0M466.8 244.6h0M466.6 238.2h0M466.7 262.0h0M466.9 259.9h0M466.9 250.5h0M466.6 249.2h0M466.9 254.8h0M466.6 257.6h0M466.8 254.6h0M466.7 248.9h0M466.8 252.2h0M466.9 251.8h0M466.8 249.7h0M466.7 252.3h0M466.8 256.5h0M466.9 237.1h0M467.0 240.9h0M466.7 243.2h0M466.9 248.8h0M466.9 241.0h0M466.9 246.6h0M466.9 261.6h0M467.0 261.8h0M466.9 248.3h0M466.8 268.2h0M467.0 252.7h0M467.0 257.8h0M466.9 238.1h0M466.9 251.2h0M466.9 254.6h0M467.0 262.1h0M466.9 250.7h0M467.1 257.5h0M467.0 249.7h0M467.1 258.7h0M466.9 250.5h0M467.1 242.9h0M467.0 237.3h0M467.0 252.3h0M467.2 260.4h0M467.0 247.6h0M467.1 260.0h0M467.3 260.1h0M467.2 254.7h0M467.2 270.2h0M467.1 261.4h0M467.2 254.7h0M467.2 249.2h0M467.0 245.3h0M467.1 257.2h0M467.2 256.9h0M467.1 242.8h0M467.3 251.3h0M467.1 251.4h0M467.3 260.4h0M467.2 256.6h0M467.1 252.3h0M467.1 254.9h0M467.4 259.3h0M467.2 253.7h0M467.4 239.7h0M467.2 241.5h0M467.4 242.2h0M467.4 251.0h0M467.3 255.5h0M467.3 259.8h0M467.3 270.0h0M467.3 273.3h0M467.4 260.3h0M467.5 254.8h0M467.5 241.4h0M467.4 264.0h0M467.3 258.3h0M467.4 253.0h0M467.5 255.6h0M467.6 257.9h0M467.5 255.8h0M467.5 262.5h0M467.6 261.9h0M467.5 243.9h0M467.4 250.5h0M467.4 248.4h0M467.4 265.8h0M467.4 273.1h0M467.4 274.9h0M467.5 255.3h0M467.4 258.2h0M467.5 274.7h0M467.5 249.3h0M467.6 253.2h0M467.7 254.8h0M467.7 270.1h0M467.6 276.1h0M467.5 262.7h0M467.7 270.2h0M467.7 260.0h0M467.8 260.3h0M467.6 274.0h0M467.5 265.8h0M467.5 250.6h0M467.6 242.7h0M467.6 262.0h0M467.8 269.4h0M467.8 265.9h0M467.7 271.1h0M467.8 272.9h0M467.7 273.4h0M467.7 262.9h0M467.7 265.4h0M467.8 257.8h0M467.8 259.9h0M467.8 246.8h0M467.9 249.0h0M467.7 253.2h0M467.7 251.0h0M467.7 243.4h0M467.8 237.9h0M467.9 246.7h0M467.7 248.8h0M467.8 257.9h0M468.0 253.5h0M467.8 256.9h0M467.8 250.8h0M467.9 261.5h0M467.7 246.3h0M468.0 250.0h0M467.8 245.5h0M467.9 257.3h0M467.9 263.8h0M467.9 251.7h0M467.9 266.2h0M468.1 273.5h0M467.8 266.9h0M467.9 264.9h0M468.0 271.3h0M468.1 267.9h0M468.1 270.6h0M467.9 265.1h0M467.9 270.4h0M468.0 264.0h0M468.1 262.0h0M468.0 258.1h0M468.1 255.5h0M468.0 253.8h0M468.0 262.0h0M468.0 269.9h0M468.2 247.3h0M468.2 265.1h0M468.0 270.1h0M468.3 256.6h0M468.1 249.9h0M468.1 246.5h0M468.2 257.7h0M468.3 263.3h0M468.1 268.7h0M468.3 252.5h0M468.3 269.8h0M468.4 262.1h0M468.1 249.7h0M468.2 259.8h0M468.2 260.4h0M468.1 261.4h0M468.3 263.3h0M468.3 257.3h0M468.4 257.0h0M468.3 270.7h0M468.2 275.7h0M468.3 271.3h0M468.4 263.2h0M468.3 260.3h0M468.3 270.8h0M468.3 254.3h0M468.3 264.3h0M468.5 262.9h0M468.3 270.7h0M468.3 258.7h0M468.6 268.8h0M468.4 276.5h0M468.3 265.4h0M468.4 255.4h0M468.5 267.4h0M468.5 246.2h0M468.5 249.8h0M468.5 258.5h0M468.6 259.0h0M468.6 245.7h0M468.5 246.5h0M468.6 244.6h0M468.4 257.9h0M468.4 268.7h0M468.6 256.2h0M468.5 263.9h0M468.7 259.4h0M468.6 263.5h0M468.7 270.6h0M468.7 264.2h0M468.6 254.8h0M468.7 260.9h0M468.7 253.2h0M468.7 263.6h0M468.7 260.1h0M468.6 244.7h0M468.7 249.0h0M468.6 252.0h0M468.5 261.4h0M468.8 260.2h0M468.8 250.2h0M468.5 255.7h0M468.8 261.0h0M468.6 261.7h0M468.6 255.7h0M468.6 255.7h0M468.7 259.7h0M468.7 254.0h0M468.6 257.0h0M468.8 265.8h0M468.6 271.7h0M468.9 268.2h0M468.8 264.8h0M468.9 255.7h0M468.7 247.8h0M468.7 260.1h0M468.7 257.9h0M468.7 254.7h0M468.7 253.6h0M468.7 247.2h0M468.8 249.9h0M468.7 250.2h0M468.8 248.2h0M468.9 248.5h0M468.9 246.9h0M468.8 259.0h0M468.9 250.0h0M468.9 252.6h0M469.0 255.6h0M468.8 254.1h0M469.0 266.8h0M469.1 263.3h0M469.0 263.4h0M469.0 256.2h0M469.0 246.1h0M468.9 253.8h0M469.0 252.2h0M468.9 255.0h0M468.9 264.5h0M469.0 264.2h0M469.0 258.1h0M469.2 250.9h0M469.0 249.3h0M469.2 263.2h0M469.1 264.2h0M469.2 264.9h0M469.1 255.4h0M469.2 249.7h0M469.3 261.0h0M469.2 243.6h0M469.1 266.2h0M469.1 250.9h0M469.1 252.4h0M469.2 261.3h0M469.2 273.3h0M469.0 274.4h0M469.1 264.1h0M469.3 267.7h0M469.1 256.0h0M469.4 263.7h0M469.1 253.8h0M469.2 257.8h0M469.3 246.9h0M469.2 242.2h0M469.3 256.4h0M469.3 266.4h0M469.2 263.4h0M469.3 265.5h0M469.4 255.3h0M469.4 248.7h0M469.3 243.0h0M469.4 251.5h0M469.4 255.8h0M469.3 262.7h0M469.5 257.1h0M469.4 271.1h0M469.5 266.6h0M469.5 256.0h0M469.5 259.7h0M469.3 256.6h0M469.4 252.7h0M469.5 264.9h0M469.6 264.7h0M469.3 260.3h0M469.5 257.0h0M469.5 257.0h0M469.5 266.6h0M469.6 265.8h0M469.5 261.9h0M469.5 257.8h0M469.4 241.8h0M469.6 262.8h0M469.5 249.4h0M469.5 255.3h0M469.6 253.0h0M469.7 254.7h0M469.5 254.6h0M469.5 267.2h0M469.5 253.6h0M469.5 255.2h0M469.5 264.7h0M469.7 272.8h0M469.6 263.0h0M469.7 258.5h0M469.7 263.0h0M469.7 266.7h0M469.5 269.8h0M469.8 266.6h0M469.7 254.3h0M469.5 256.1h0M469.6 245.6h0M469.8 241.8h0M469.6 249.6h0M469.8 272.0h0M469.7 243.0h0M469.8 244.6h0M469.8 253.3h0M469.8 254.3h0M469.9 255.3h0M469.8 263.3h0M469.7 273.8h0M469.7 266.8h0M469.8 255.8h0M469.9 242.5h0M470.0 255.2h0M469.8 257.3h0M469.7 249.8h0M469.8 257.8h0M469.8 257.7h0M469.9 254.4h0M469.9 264.6h0M470.0 258.1h0M469.9 255.0h0M469.8 248.9h0M469.9 254.2h0M469.8 249.0h0M470.0 245.6h0M469.9 260.9h0M469.8 250.7h0M470.0 242.5h0M469.8 247.6h0M469.9 247.8h0M469.8 242.6h0M469.9 249.6h0M470.0 250.6h0M470.0 254.1h0M470.0 246.5h0M470.0 248.3h0M470.0 242.4h0M470.2 262.0h0M470.1 263.4h0M469.9 255.7h0M470.2 257.1h0M469.9 257.2h0M470.0 253.0h0M470.2 267.0h0M469.9 266.3h0M470.0 247.8h0M470.2 255.8h0M470.1 262.5h0M470.2 259.8h0M470.0 250.0h0M470.1 245.6h0M470.2 243.2h0M470.3 244.6h0M470.2 260.7h0M470.1 272.3h0M470.3 266.1h0M470.3 266.1h0M470.2 251.4h0M470.1 255.0h0M470.1 254.5h0M470.3 258.2h0M470.3 254.3h0M470.1 246.1h0M470.3 257.5h0M470.3 263.5h0M470.1 260.9h0M470.3 262.3h0M470.3 260.2h0M470.4 247.4h0M470.2 249.1h0M470.4 251.2h0M470.2 259.6h0M470.2 256.0h0M470.5 251.5h0M470.4 254.1h0M470.2 250.2h0M470.3 258.3h0M470.2 249.4h0M470.3 262.7h0M470.5 252.4h0M470.5 255.1h0M470.4 266.2h0M470.4 269.8h0M470.4 260.7h0M470.3 270.7h0M470.5 260.3h0M470.3 259.3h0M470.4 257.7h0M470.6 261.8h0M470.4 265.9h0M470.5 254.4h0M470.6 259.9h0M470.5 261.6h0M470.6 256.6h0M470.6 259.4h0M470.6 260.7h0M470.5 266.6h0M470.4 260.3h0M470.5 250.4h0M470.4 252.6h0M470.4 262.5h0M470.5 266.8h0M470.7 269.8h0M470.6 263.7h0M470.5 260.7h0M470.7 272.3h0M470.5 253.2h0M470.5 251.0h0M470.6 255.6h0M470.5 261.2h0M470.7 253.8h0M470.7 265.5h0M470.6 263.0h0M470.7 260.6h0M470.6 262.4h0M470.6 263.5h0M470.6 255.8h0M470.7 254.2h0M470.7 257.2h0M470.6 259.7h0M470.8 255.4h0M470.7 251.1h0M470.7 256.9h0M470.8 251.0h0M470.7 248.8h0M470.7 259.6h0M470.7 258.4h0M470.9 257.4h0M470.9 255.5h0M470.7 247.7h0M470.8 244.8h0M470.8 258.0h0M470.9 257.6h0M470.9 259.1h0M470.7 263.3h0M470.9 267.4h0M470.7 265.8h0M470.9 260.3h0M471.0 256.8h0M470.9 257.9h0M470.8 260.9h0M470.9 253.7h0M471.0 259.1h0M471.1 259.0h0M471.0 261.6h0M471.0 261.8h0M471.1 244.6h0M471.0 252.8h0M471.0 248.1h0M471.1 250.3h0M470.9 247.0h0M471.0 252.3h0M471.0 252.6h0M470.9 248.0h0M471.0 251.3h0M470.9 259.0h0M470.9 257.4h0M471.1 253.4h0M471.0 267.3h0M471.2 264.2h0M471.0 265.1h0M471.0 257.0h0M471.1 252.6h0M471.1 257.6h0M471.2 259.5h0M471.1 245.4h0M471.0 252.1h0M471.2 265.8h0M471.3 252.5h0M471.0 251.9h0" stroke="#000" stroke-width="2.6" stroke-linecap="round" fill="none"/>
<path d="M561.1 79.0h0M570.2 92.7h0M581.5 100.3h0M576.7 106.6h0M585.4 109.4h0M597.0 100.0h0M594.5 106.4h0M604.3 105.1h0M589.1 113.1h0M591.5 113.7h0M598.8 113.4h0M605.9 104.8h0M608.8 108.5h0M607.4 111.4h0M603.0 116.5h0M612.3 113.8h0M614.2 113.6h0M615.9 112.6h0M616.6 117.3h0M619.8 117.4h0M610.8 120.2h0M613.7 119.7h0M618.6 123.6h0M623.4 122.6h0M624.9 112.6h0M601.1 128.4h0M621.5 128.9h0M624.4 121.1h0M625.6 112.5h0M625.6 122.4h0M626.5 123.4h0M620.7 126.3h0M621.7 129.2h0M623.6 131.1h0M618.3 132.6h0M630.4 128.7h0M632.4 129.2h0M634.8 129.2h0M637.3 130.2h0M639.2 126.8h0M631.9 131.1h0M634.8 132.1h0M636.3 133.6h0M639.2 133.6h0M641.1 133.1h0M644.1 133.1h0M648.9 128.2h0M649.4 134.5h0M627.0 136.5h0M629.0 136.0h0M630.9 138.0h0M633.8 136.0h0M634.3 138.4h0M638.2 137.5h0M641.1 138.9h0M645.5 138.9h0M618.0 132.6h0M620.9 129.4h0M622.9 130.8h0M626.3 136.7h0M628.2 135.7h0M629.2 134.2h0M632.1 138.6h0M634.1 140.6h0M627.3 143.0h0M628.7 142.3h0M626.8 144.5h0M629.2 147.9h0M637.5 145.0h0M638.9 147.9h0M626.0 122.9h0M639.6 126.8h0M648.8 128.3h0M630.8 129.2h0M634.2 130.7h0M636.7 129.7h0M640.6 132.7h0M645.0 133.1h0M654.2 132.2h0M648.8 134.6h0M654.2 135.1h0M629.9 137.5h0M631.8 139.5h0M634.7 140.9h0M628.4 142.4h0M627.0 144.3h0M628.9 148.2h0M637.7 145.3h0M639.6 146.8h0M642.5 149.2h0M643.0 153.1h0M643.5 156.0h0M645.4 153.6h0M650.0 128.5h0M679.0 138.8h0M647.7 165.4h0M654.6 164.3h0M715.4 197.0h0M630.5 135.9h0M631.3 137.0h0M632.4 140.0h0M633.2 143.3h0M633.8 145.6h0M634.2 142.5h0M634.7 141.7h0M635.0 142.9h0M635.8 146.8h0M636.3 142.5h0M637.0 145.1h0M637.3 146.8h0M637.6 140.3h0M638.0 141.8h0M638.8 152.2h0M638.9 144.0h0M640.4 144.3h0M640.6 141.3h0M640.8 153.9h0M641.2 136.4h0M641.7 138.7h0M641.9 152.2h0M642.3 148.5h0M642.9 142.7h0M642.9 152.3h0M643.3 153.9h0M643.7 151.9h0M644.0 151.6h0M644.1 144.9h0M644.4 151.6h0M644.6 139.0h0M644.8 155.3h0M645.2 149.0h0M645.4 148.0h0M645.4 147.4h0M645.5 147.7h0M645.9 138.8h0M646.2 146.4h0M646.5 157.4h0M646.3 157.3h0M646.6 148.6h0M646.8 146.0h0M647.2 145.9h0M647.4 154.3h0M647.3 151.6h0M647.5 145.1h0M647.7 138.0h0M647.7 148.2h0M648.1 153.0h0M648.2 145.3h0M648.2 139.5h0M648.5 138.4h0M648.6 146.6h0M648.6 136.3h0M648.9 135.6h0M649.2 144.1h0M649.1 141.2h0M649.3 152.3h0M649.7 152.0h0M649.9 152.0h0M649.9 166.6h0M650.3 154.0h0M650.3 146.8h0M650.4 148.3h0M650.7 144.8h0M650.9 144.9h0M650.9 142.6h0M650.8 153.5h0M651.2 144.4h0M651.3 152.9h0M651.5 147.2h0M651.7 145.1h0M651.9 145.4h0M652.0 151.9h0M652.4 162.5h0M652.5 151.0h0M652.4 152.5h0M652.7 150.2h0M652.8 143.8h0M652.7 151.1h0M652.7 153.6h0M653.1 154.9h0M653.2 147.1h0M653.2 149.1h0M653.3 144.6h0M653.4 144.6h0M653.5 137.7h0M653.6 140.8h0M653.8 139.5h0M654.0 152.0h0M653.9 146.4h0M654.1 143.8h0M654.1 138.3h0M654.3 149.8h0M654.2 149.6h0M654.5 148.0h0M654.5 155.6h0M654.5 150.9h0M654.8 159.9h0M654.9 164.2h0M654.9 152.2h0M655.1 142.2h0M655.2 150.4h0M655.1 150.9h0M655.2 162.3h0M655.5 164.8h0M655.5 156.5h0M655.7 153.6h0M655.8 160.5h0M655.6 147.9h0M655.8 151.7h0M656.1 150.4h0M656.2 152.9h0M656.3 156.6h0M656.3 149.3h0M656.3 155.2h0M656.6 148.4h0M656.4 143.2h0M656.7 147.5h0M656.9 139.4h0M656.7 148.2h0M657.1 147.4h0M657.0 139.4h0M657.2 148.9h0M657.2 145.1h0M657.5 145.1h0M657.7 146.2h0M657.6 142.1h0M657.7 146.9h0M657.7 150.3h0M657.9 147.0h0M657.7 153.4h0M658.0 143.5h0M658.2 148.4h0M658.4 139.5h0M658.5 146.5h0M658.3 155.8h0M658.6 151.6h0M658.7 144.0h0M658.6 141.9h0M658.8 145.9h0M658.8 157.7h0M659.0 151.8h0M659.0 157.6h0M659.1 157.0h0M659.3 149.5h0M659.4 146.9h0M659.3 154.8h0M659.5 159.0h0M659.6 153.3h0M659.8 150.6h0M659.7 148.2h0M660.0 142.1h0M660.1 154.3h0M660.0 146.3h0M660.3 139.5h0M660.3 142.4h0M660.5 146.1h0M660.3 145.2h0M660.6 141.0h0M660.6 153.0h0M660.8 146.4h0M660.8 144.0h0M660.8 156.1h0M660.8 148.5h0M661.1 151.3h0M661.1 151.4h0M661.1 143.7h0M661.1 138.3h0M661.2 153.0h0M661.4 148.8h0M661.6 154.3h0M661.6 154.4h0M661.6 150.4h0M661.7 152.6h0M661.7 142.4h0M662.0 146.4h0M661.9 137.9h0M662.2 147.2h0M662.2 156.1h0M662.4 154.0h0M662.5 151.3h0M662.6 144.0h0M662.7 145.2h0M662.6 144.8h0M662.8 159.2h0M662.9 156.5h0M662.9 145.5h0M662.8 151.0h0M663.1 158.0h0M663.3 141.4h0M663.4 140.7h0M663.3 144.9h0M663.3 147.0h0M663.5 147.0h0M663.4 140.9h0M663.7 157.5h0M663.9 159.9h0M663.8 147.9h0M663.8 145.2h0M663.9 151.9h0M664.0 153.7h0M664.1 147.0h0M664.2 148.1h0M664.1 150.3h0M664.4 145.4h0M664.5 144.0h0M664.4 153.0h0M664.4 155.0h0M664.5 163.0h0M664.6 160.3h0M664.6 161.2h0M664.7 159.8h0M664.7 161.6h0M664.8 149.7h0M665.0 155.7h0M665.0 157.8h0M665.2 154.2h0M665.2 149.6h0M665.1 147.4h0M665.4 148.3h0M665.4 159.9h0M665.6 155.1h0M665.5 163.7h0M665.7 152.1h0M665.5 139.9h0M665.6 146.5h0M665.8 150.8h0M665.9 156.1h0M666.1 162.9h0M666.2 157.9h0M666.0 162.2h0M666.1 159.0h0M666.1 153.6h0M666.4 156.2h0M666.5 153.0h0M666.5 157.5h0M666.7 152.8h0M666.5 148.5h0M666.7 151.2h0M666.7 147.3h0M666.7 154.3h0M666.8 154.1h0M667.2 145.4h0M667.2 142.2h0M667.2 163.2h0M667.2 144.6h0M667.2 150.5h0M667.5 153.7h0M667.4 155.0h0M667.6 158.7h0M667.5 162.6h0M667.6 161.9h0M667.8 156.9h0M667.7 156.9h0M667.8 148.6h0M667.8 152.3h0M667.9 150.6h0M668.0 157.5h0M668.2 158.8h0M668.2 157.2h0M668.3 144.2h0M668.5 152.9h0M668.4 146.9h0M668.4 141.6h0M668.6 149.8h0M668.7 143.3h0M668.8 145.7h0M668.9 151.1h0M668.9 157.7h0M669.1 156.7h0M669.0 158.7h0M669.2 164.3h0M669.1 158.6h0M669.3 153.9h0M669.5 153.2h0M669.3 150.4h0M669.6 165.3h0M669.5 158.0h0M669.7 162.9h0M669.5 157.7h0M669.7 162.2h0M669.7 162.3h0M669.6 161.3h0M670.0 158.7h0M670.0 147.8h0M669.9 148.9h0M670.0 154.3h0M670.0 147.4h0M670.3 159.8h0M670.3 156.1h0M670.2 159.7h0M670.2 150.3h0M670.3 151.2h0M670.6 153.9h0M670.6 148.0h0M670.6 151.9h0M670.5 154.4h0M670.6 152.3h0M670.6 152.9h0M670.6 150.1h0M670.9 154.9h0M670.8 164.1h0M671.1 154.2h0M671.1 156.4h0M671.0 149.1h0M671.3 160.6h0M671.3 158.9h0M671.3 150.3h0M671.3 153.1h0M671.5 152.0h0M671.4 161.9h0M671.5 154.8h0M671.7 160.4h0M671.6 155.2h0M671.7 161.9h0M671.5 166.2h0M671.8 157.5h0M672.0 154.9h0M672.0 164.5h0M672.0 155.2h0M672.0 160.7h0M672.0 161.6h0M672.2 156.9h0M672.3 154.5h0M672.2 152.9h0M672.2 162.8h0M672.2 148.4h0M672.5 156.3h0M672.4 154.5h0M672.6 160.1h0M672.5 158.3h0M672.5 152.4h0M672.5 154.8h0M672.7 158.6h0M672.8 156.5h0M672.6 152.3h0M672.8 146.5h0M672.8 153.1h0M672.7 158.1h0M672.8 151.4h0M673.1 152.5h0M672.9 156.7h0M673.0 159.0h0M673.2 161.2h0M673.3 160.6h0M673.3 149.4h0M673.3 164.7h0M673.4 166.2h0M673.4 162.1h0M673.5 152.9h0M673.5 153.2h0M673.5 165.7h0M673.8 156.3h0M673.6 156.1h0M673.9 160.5h0M673.7 160.7h0M674.0 156.5h0M674.1 153.7h0M674.1 148.3h0M674.1 149.3h0M674.1 154.3h0M674.2 153.2h0M674.4 160.3h0M674.5 161.2h0M674.3 154.7h0M674.3 145.7h0M674.4 151.3h0M674.5 147.3h0M674.7 154.2h0M674.5 147.5h0M674.8 155.4h0M674.8 167.7h0M674.8 166.9h0M674.9 149.6h0M675.0 149.4h0M675.0 149.9h0M675.0 157.6h0M675.0 163.3h0M675.2 154.4h0M675.1 153.2h0M675.2 152.9h0M675.4 158.2h0M675.4 145.8h0M675.4 157.4h0M675.6 153.8h0M675.6 150.4h0M675.4 158.8h0M675.4 161.9h0M675.5 152.0h0M675.5 166.6h0M675.6 162.6h0M675.7 153.2h0M675.7 154.8h0M675.7 165.8h0M675.8 160.3h0M675.7 161.3h0M675.9 159.3h0M676.0 161.0h0M676.2 154.2h0M676.1 153.7h0M676.0 157.4h0M676.0 149.2h0M676.2 152.2h0M676.2 159.9h0M676.3 152.5h0M676.5 156.7h0M676.4 162.4h0M676.5 155.6h0M676.6 152.5h0M676.5 155.8h0M676.5 158.9h0M676.8 160.9h0M676.9 171.1h0M676.6 160.9h0M676.8 162.0h0M676.9 150.5h0M676.8 162.6h0M676.8 157.1h0M677.0 160.1h0M676.8 157.3h0M677.0 160.2h0M677.1 157.7h0M677.1 153.5h0M677.1 155.7h0M677.1 150.3h0M677.2 152.1h0M677.2 155.8h0M677.3 155.3h0M677.4 170.5h0M677.5 170.3h0M677.3 163.6h0M677.5 155.2h0M677.5 165.7h0M677.5 166.3h0M677.6 156.2h0M677.5 146.5h0M677.8 146.3h0M677.8 146.9h0M677.8 150.7h0M677.8 160.1h0M677.9 149.8h0M677.9 153.4h0M677.9 149.7h0M677.9 148.0h0M678.0 150.6h0M678.0 157.5h0M678.2 163.8h0M678.1 168.2h0M678.2 165.8h0M678.4 168.7h0M678.4 168.3h0M678.3 161.4h0M678.5 161.3h0M678.4 167.0h0M678.4 160.2h0M678.5 162.7h0M678.5 168.4h0M678.7 165.5h0M678.7 165.6h0M678.6 162.0h0M678.6 155.5h0M678.7 161.9h0M678.8 168.6h0M678.9 163.3h0M679.0 153.0h0M678.9 147.3h0M678.8 150.4h0M679.1 151.5h0M679.0 151.5h0M679.0 161.1h0M679.1 151.1h0M679.0 154.4h0M679.3 173.2h0M679.2 147.7h0M679.3 149.9h0M679.4 160.3h0M679.2 166.4h0M679.3 172.6h0M679.3 171.3h0M679.5 160.9h0M679.4 156.4h0M679.3 156.2h0M679.5 153.5h0M679.5 165.6h0M679.6 169.2h0M679.7 161.7h0M679.7 164.4h0M679.7 158.9h0M679.8 160.2h0M679.7 154.9h0M679.8 153.6h0M679.8 159.0h0M680.0 166.9h0M680.0 162.1h0M679.9 152.3h0M680.2 152.4h0M680.2 155.5h0M680.2 148.5h0M680.3 147.0h0M680.3 172.4h0M680.2 157.9h0M680.5 166.2h0M680.5 149.5h0M680.4 151.6h0M680.4 162.2h0M680.7 144.7h0M680.7 145.9h0M680.6 156.2h0M680.5 155.3h0M680.6 143.5h0M680.9 148.0h0M680.8 151.3h0M680.9 146.7h0M680.8 149.0h0M680.9 164.2h0M681.0 155.4h0M681.1 164.7h0M680.9 163.5h0M681.1 167.0h0M680.9 159.1h0M681.0 155.8h0M681.2 152.2h0M681.1 155.5h0M681.3 167.7h0M681.3 166.0h0M681.2 163.3h0M681.3 165.8h0M681.4 161.9h0M681.4 157.3h0M681.4 154.0h0M681.6 158.3h0M681.6 163.4h0M681.5 173.8h0M681.7 169.5h0M681.6 162.2h0M681.6 166.5h0M681.9 158.8h0M681.8 153.7h0M681.8 159.1h0M681.9 164.6h0M682.0 160.0h0M681.9 171.5h0M681.9 172.5h0M681.9 167.6h0M682.0 150.2h0M682.0 161.9h0M682.3 165.2h0M682.1 163.2h0M682.1 158.8h0M682.4 173.2h0M682.2 163.2h0M682.3 151.8h0M682.3 172.0h0M682.3 161.8h0M682.4 169.6h0M682.4 159.3h0M682.6 151.7h0M682.5 168.8h0M682.6 166.1h0M682.6 167.0h0M682.6 166.9h0M682.7 151.4h0M682.8 156.2h0M682.9 160.6h0M682.8 162.7h0M682.8 164.6h0M682.7 156.5h0M682.9 150.0h0M683.1 155.6h0M683.1 160.7h0M682.9 159.5h0M683.1 159.1h0M683.2 161.8h0M683.1 162.7h0M683.3 160.6h0M683.3 149.3h0M683.3 157.6h0M683.4 155.7h0M683.2 156.6h0M683.4 160.5h0M683.3 155.1h0M683.4 156.7h0M683.4 156.1h0M683.6 157.3h0M683.4 148.9h0M683.6 150.4h0M683.5 144.0h0M683.7 143.9h0M683.7 154.3h0M683.6 160.9h0M683.6 147.4h0M683.7 159.1h0M683.8 154.9h0M683.9 151.2h0M683.7 165.0h0M683.9 171.9h0M684.0 160.8h0M683.9 160.7h0M683.9 163.0h0M684.1 156.7h0M684.1 152.0h0M684.2 147.9h0M684.3 152.5h0M684.0 152.0h0M684.2 168.1h0M684.1 165.2h0M684.3 167.3h0M684.5 165.2h0M684.3 166.3h0M684.5 160.4h0M684.3 169.4h0M684.6 162.3h0M684.5 161.0h0M684.7 153.4h0M684.6 152.4h0M684.7 149.8h0M684.6 152.5h0M684.6 159.7h0M684.8 160.5h0M684.8 160.7h0M684.9 170.6h0M684.7 168.0h0M684.9 151.6h0M684.8 148.5h0M684.7 160.0h0M685.0 168.1h0M685.1 150.7h0M684.9 153.9h0M685.1 159.8h0M685.1 159.4h0M685.1 152.6h0M685.0 157.1h0M685.1 156.6h0M685.3 166.0h0M685.2 155.1h0M685.2 157.2h0M685.3 146.0h0M685.4 152.7h0M685.3 156.0h0M685.5 150.8h0M685.5 151.9h0M685.3 165.3h0M685.6 152.3h0M685.4 156.3h0M685.5 151.2h0M685.5 144.1h0M685.7 146.1h0M685.6 146.6h0M685.7 159.0h0M685.8 173.1h0M685.7 164.5h0M685.8 160.5h0M685.7 147.6h0M685.9 147.1h0M685.9 152.4h0M685.9 159.2h0M686.0 159.0h0M686.1 160.3h0M686.1 158.5h0M686.1 156.5h0M686.2 155.6h0M686.2 160.1h0M686.2 152.7h0M686.3 163.3h0M686.1 152.5h0M686.2 164.7h0M686.3 162.8h0M686.2 168.3h0M686.3 157.8h0M686.5 156.5h0M686.3 159.6h0M686.4 160.0h0M686.5 156.5h0M686.5 158.7h0M686.5 146.5h0M686.4 171.0h0M686.5 164.4h0M686.5 163.2h0M686.5 157.0h0M686.8 144.4h0M686.8 156.0h0M686.6 153.7h0M686.8 159.1h0M686.8 161.6h0M686.8 156.7h0M686.7 164.1h0M686.9 156.6h0M686.7 155.7h0M686.9 171.5h0M686.8 164.0h0M686.8 163.9h0M687.1 164.5h0M687.1 148.5h0M687.1 161.5h0M687.0 153.2h0M687.0 156.4h0M687.3 165.6h0M687.1 161.7h0M687.4 146.4h0M687.4 161.6h0M687.3 169.3h0M687.2 161.8h0M687.4 158.7h0M687.5 160.7h0M687.3 159.5h0M687.4 166.6h0M687.4 147.8h0M687.5 164.7h0M687.7 171.1h0M687.5 164.4h0M687.5 164.4h0M687.6 157.0h0M687.7 169.8h0M687.7 149.1h0M687.7 158.4h0M687.7 155.2h0M687.6 165.6h0M687.8 160.9h0M687.9 155.9h0M687.9 167.0h0M687.9 161.1h0M687.9 163.2h0M688.0 169.2h0M687.8 168.0h0M688.0 151.9h0M688.2 160.0h0M688.1 160.0h0M688.1 154.0h0M688.1 161.3h0M688.2 157.0h0M688.3 168.5h0M688.2 173.3h0M688.2 164.6h0M688.3 163.8h0M688.4 174.7h0M688.3 172.4h0M688.4 170.3h0M688.3 164.3h0M688.4 153.0h0M688.2 152.7h0M688.4 153.8h0M688.5 151.8h0M688.4 151.5h0M688.4 162.5h0M688.4 159.4h0M688.6 162.6h0M688.6 167.1h0M688.6 166.0h0M688.7 153.6h0M688.7 149.9h0M688.8 150.7h0M688.6 157.1h0M688.6 158.2h0M688.8 156.8h0M688.9 157.0h0M688.9 153.4h0M688.8 171.4h0M688.7 172.3h0M688.8 175.5h0M688.8 171.0h0M688.9 161.4h0M689.0 166.6h0M688.9 161.2h0M689.1 163.6h0M689.1 156.6h0M689.2 156.7h0M689.1 161.0h0M689.0 162.6h0M689.2 175.1h0M689.1 159.4h0M689.3 158.6h0M689.1 166.3h0M689.2 157.8h0M689.3 149.7h0M689.2 145.6h0M689.5 156.3h0M689.4 163.3h0M689.2 165.8h0M689.5 157.3h0M689.5 165.9h0M689.4 165.1h0M689.6 171.3h0M689.4 158.7h0M689.6 152.3h0M689.5 152.4h0M689.8 154.0h0M689.7 159.4h0M689.8 163.4h0M689.9 166.7h0M689.6 158.4h0M689.7 173.1h0M689.8 160.0h0M689.7 159.1h0M689.7 153.1h0M690.0 169.8h0M689.8 164.1h0M689.9 144.5h0M690.0 153.1h0M689.8 163.8h0M690.0 160.4h0M690.0 157.6h0M689.9 163.3h0M690.1 155.6h0M690.1 158.2h0M690.0 165.8h0M690.1 162.4h0M690.0 146.5h0M690.1 171.2h0M690.3 174.7h0M690.2 170.2h0M690.2 171.3h0M690.3 166.9h0M690.3 168.5h0M690.2 156.3h0M690.3 151.3h0M690.3 166.9h0M690.4 160.5h0M690.3 154.0h0M690.4 159.5h0M690.6 154.1h0M690.4 156.1h0M690.7 165.0h0M690.7 164.9h0M690.5 165.4h0M690.6 167.0h0M690.7 156.3h0M690.7 158.7h0M690.7 155.0h0M690.6 154.2h0M690.7 152.7h0M690.7 156.4h0M690.8 156.4h0M690.8 166.5h0M690.9 165.0h0M690.9 170.6h0M691.0 158.6h0M690.9 166.4h0M691.0 173.2h0M691.0 175.5h0M691.1 161.7h0M690.9 149.6h0M691.1 149.4h0M691.1 151.3h0M691.2 154.2h0M691.3 152.9h0M691.0 152.6h0M691.2 152.4h0M691.2 167.9h0M691.3 172.2h0M691.3 160.8h0M691.2 162.4h0M691.2 162.9h0M691.3 158.4h0M691.3 149.9h0M691.2 149.3h0M691.4 151.2h0M691.4 164.8h0M691.6 156.8h0M691.6 170.4h0M691.4 170.1h0M691.7 163.4h0M691.5 164.4h0M691.7 146.5h0M691.6 155.3h0M691.5 149.7h0M691.5 153.2h0M691.6 151.2h0M691.8 167.2h0M691.6 163.5h0M691.9 174.8h0M691.8 163.3h0M691.7 168.2h0M691.7 160.5h0M691.8 155.7h0M691.7 155.0h0M692.0 148.4h0M691.9 153.4h0M692.0 171.1h0M692.1 173.2h0M692.0 171.9h0M692.0 162.5h0M691.9 159.6h0M692.0 165.3h0M692.0 157.2h0M692.1 165.9h0M692.1 155.1h0M692.3 148.1h0M692.3 157.1h0M692.3 159.2h0M692.3 156.4h0M692.2 157.5h0M692.3 164.9h0M692.4 154.5h0M692.3 170.3h0M692.5 159.0h0M692.3 159.9h0M692.5 153.3h0M692.3 156.8h0M692.4 156.5h0M692.5 161.9h0M692.6 169.7h0M692.5 154.7h0M692.7 156.8h0M692.6 158.7h0M692.5 150.8h0M692.8 147.5h0M692.6 146.6h0M692.6 154.2h0M692.8 151.8h0M692.8 148.5h0M692.9 150.1h0M692.8 163.3h0M692.6 146.5h0M692.9 149.2h0M692.9 148.8h0M692.9 159.6h0M693.0 167.0h0M692.8 147.2h0M692.8 152.1h0M693.0 151.3h0M692.8 165.6h0M693.1 166.3h0M693.1 153.0h0M693.0 153.5h0M693.0 156.1h0M693.2 165.7h0M693.1 155.5h0M693.2 159.3h0M693.2 163.8h0M693.2 160.0h0M693.1 157.8h0M693.2 169.3h0M693.2 158.6h0M693.3 168.0h0M693.4 172.6h0M693.5 149.9h0M693.3 159.9h0M693.3 158.8h0M693.5 171.3h0M693.3 161.9h0M693.4 151.2h0M693.5 154.8h0M693.4 166.2h0M693.5 154.0h0M693.6 156.8h0M693.4 150.8h0M693.5 155.2h0M693.7 149.3h0M693.5 163.5h0M693.5 164.8h0M693.8 161.7h0M693.5 153.7h0M693.8 156.9h0M693.6 166.4h0M693.7 158.7h0M693.6 163.6h0M693.9 167.5h0M693.7 171.5h0M693.8 155.5h0M693.8 155.3h0M693.8 165.9h0M693.8 151.2h0M693.9 164.2h0M693.8 161.1h0M693.9 170.6h0M694.0 156.6h0M694.0 166.2h0M694.0 163.7h0M694.1 152.7h0M694.1 155.3h0M694.2 168.0h0M694.1 155.7h0M694.1 155.3h0M694.1 164.4h0M694.2 168.3h0M694.1 166.4h0M694.3 145.7h0M694.1 168.7h0M694.1 170.6h0M694.3 159.1h0M694.4 158.5h0M694.3 152.0h0M694.3 163.9h0M694.3 162.8h0M694.4 151.5h0M694.5 159.2h0M694.2 145.2h0M694.4 153.7h0M694.3 153.4h0M694.5 162.6h0M694.5 162.7h0M694.6 169.6h0M694.4 176.2h0M694.4 162.2h0M694.6 163.9h0M694.5 162.1h0M694.6 165.7h0M694.6 172.6h0M694.7 159.5h0M694.7 163.5h0M694.6 168.1h0M694.7 172.8h0M694.8 171.1h0M694.9 170.1h0M694.9 164.5h0M694.9 161.6h0M694.9 165.0h0M694.9 165.2h0M694.8 156.7h0M694.9 156.8h0M695.0 153.0h0M694.9 149.0h0M694.8 159.2h0M695.1 167.0h0M695.0 165.6h0M694.9 175.2h0M695.0 162.8h0M694.9 163.0h0M695.1 171.3h0M695.0 172.9h0M695.2 176.3h0M695.1 175.2h0M695.0 162.4h0M695.0 166.3h0M695.2 162.1h0M695.1 171.4h0M695.3 160.5h0M695.1 158.5h0M695.1 155.1h0M695.3 155.7h0M695.2 154.9h0M695.4 159.9h0M695.5 152.8h0M695.2 152.4h0M695.2 148.7h0M695.4 157.1h0M695.4 163.7h0M695.5 158.5h0M695.5 159.5h0M695.4 168.2h0M695.5 171.1h0M695.4 166.6h0M695.7 160.0h0M695.7 161.9h0M695.6 161.6h0M695.7 161.5h0M695.8 160.4h0M695.6 151.6h0M695.8 159.8h0M695.7 164.5h0M695.8 164.0h0M695.7 164.5h0M695.9 167.7h0M695.9 160.0h0M696.0 165.0h0M695.9 166.6h0M696.1 157.2h0M695.8 151.5h0M696.0 152.8h0M696.1 160.8h0M695.9 167.8h0M695.9 156.0h0M696.0 157.9h0M695.9 157.6h0M696.0 152.5h0M696.2 157.1h0M696.0 153.9h0M696.1 165.6h0M696.2 164.2h0M696.1 152.6h0M696.2 174.7h0M696.1 164.3h0M696.2 157.5h0M696.1 158.3h0M696.3 156.1h0M696.3 169.7h0M696.2 164.4h0M696.4 153.2h0M696.2 160.7h0M696.4 161.7h0M696.3 164.7h0M696.3 157.2h0M696.4 165.1h0M696.5 171.1h0M696.4 154.2h0M696.4 161.2h0M696.5 155.4h0M696.5 154.8h0M696.3 163.7h0M696.4 155.4h0M696.6 161.7h0M696.4 172.4h0M696.5 160.7h0M696.7 161.9h0M696.6 155.8h0M696.5 154.1h0M696.5 164.0h0M696.7 163.2h0M696.6 167.5h0M696.6 164.7h0M696.8 157.3h0M696.8 158.8h0M696.7 168.8h0M696.7 171.2h0M696.8 172.9h0M696.8 166.8h0M696.8 156.9h0M696.7 149.5h0M696.7 150.9h0M696.8 152.5h0M696.9 172.7h0M696.9 160.4h0M696.9 153.2h0M696.9 148.7h0M696.9 157.0h0M696.8 151.2h0M697.0 157.3h0M696.9 152.3h0M696.9 154.0h0M696.9 163.9h0M697.0 160.3h0M697.1 155.1h0M696.9 165.3h0M697.0 164.2h0M697.0 162.4h0M697.0 158.4h0M697.0 163.8h0M697.0 150.8h0M697.3 154.9h0M697.2 163.6h0M697.3 160.7h0M697.2 167.3h0M697.2 161.2h0M697.2 166.3h0M697.1 170.8h0M697.2 158.8h0M697.3 173.6h0M697.3 174.4h0M697.3 154.0h0M697.2 157.0h0M697.5 165.7h0M697.4 163.9h0M697.4 157.2h0M697.3 150.4h0M697.5 148.3h0M697.5 157.8h0M697.3 161.0h0M697.4 157.6h0M697.4 157.8h0M697.6 172.5h0M697.6 160.8h0M697.6 157.1h0M697.7 157.5h0M697.5 162.1h0M697.6 162.1h0M697.5 170.5h0M697.6 173.0h0M697.5 154.1h0M697.6 170.3h0M697.6 166.8h0M697.8 160.6h0M697.8 163.3h0M697.6 172.3h0M697.8 153.5h0M697.8 168.4h0M697.8 158.0h0M697.8 167.8h0M697.7 168.2h0M697.9 160.0h0M698.0 159.9h0M697.8 161.3h0M698.0 147.3h0M698.0 153.5h0M698.0 160.3h0M698.0 152.9h0M697.9 169.7h0M698.1 171.7h0M697.9 171.0h0M698.0 160.1h0M698.1 154.1h0M698.2 161.7h0M698.0 165.8h0M698.0 171.1h0M698.3 160.6h0M698.1 157.3h0M698.3 158.5h0M698.3 151.2h0M698.3 161.6h0M698.2 157.4h0M698.2 161.1h0M698.3 177.5h0M698.2 166.7h0M698.4 153.6h0M698.2 167.0h0M698.2 173.3h0M698.4 170.6h0M698.4 160.1h0M698.4 165.2h0M698.3 164.3h0M698.4 160.3h0M698.6 159.6h0M698.5 164.6h0M698.5 163.1h0M698.5 150.2h0M698.4 174.1h0M698.6 169.3h0M698.7 153.9h0M698.6 170.7h0M698.7 145.5h0M698.6 156.9h0M698.6 159.4h0M698.6 158.8h0M698.5 171.3h0M698.8 164.9h0M698.6 162.4h0M698.7 173.0h0M698.6 160.9h0M698.7 156.9h0M698.7 148.9h0M698.8 149.8h0M698.7 160.9h0M698.9 162.7h0M698.9 172.4h0M698.7 163.6h0M698.7 158.2h0M698.8 170.8h0M698.7 173.1h0M698.8 159.0h0M699.0 159.1h0M698.8 159.2h0M699.0 166.4h0M699.0 162.2h0M698.9 172.1h0M698.9 164.4h0M698.9 163.1h0M698.9 159.4h0M699.0 152.4h0M699.1 153.6h0M699.0 153.1h0M699.0 155.2h0M699.1 161.7h0M699.1 173.3h0M699.3 170.9h0M699.3 168.2h0M699.3 160.0h0M699.3 157.7h0M699.1 165.8h0M699.2 172.4h0M699.1 169.0h0M699.4 162.7h0M699.4 152.4h0M699.3 163.1h0M699.3 154.7h0M699.3 150.2h0M699.3 154.8h0M699.4 153.9h0M699.5 164.7h0M699.4 149.4h0M699.4 145.0h0M699.6 156.7h0M699.4 162.7h0M699.5 156.5h0M699.5 164.8h0M699.5 161.9h0M699.5 165.9h0M699.5 177.2h0M699.5 162.7h0M699.5 144.6h0M699.6 151.5h0M699.6 165.9h0M699.7 164.2h0M699.7 163.3h0M699.6 159.2h0M699.7 152.8h0M699.8 158.3h0M699.8 162.3h0M699.7 158.6h0M699.7 156.1h0M699.7 159.2h0M699.9 156.5h0M699.7 149.4h0M699.8 168.5h0M699.8 172.1h0M699.8 158.3h0M699.8 148.5h0M699.9 167.9h0M699.8 155.8h0M699.9 146.8h0M700.0 156.7h0M699.9 172.4h0M699.8 177.4h0M699.9 167.4h0M699.9 161.8h0M700.1 156.3h0M700.1 158.3h0M700.0 177.1h0M700.1 160.8h0M700.1 161.4h0M700.2 159.5h0M700.1 156.9h0M700.1 149.0h0M700.2 150.1h0M700.1 168.0h0M700.2 165.9h0M700.1 162.7h0M700.1 151.4h0M700.2 160.3h0M700.1 164.0h0M700.4 165.8h0M700.4 163.9h0M700.4 152.1h0M700.3 150.1h0M700.4 167.8h0M700.4 168.4h0M700.3 158.7h0M700.5 158.3h0M700.4 159.6h0M700.3 159.8h0M700.5 152.7h0M700.4 158.3h0M700.5 155.6h0M700.5 166.7h0M700.4 158.1h0M700.5 175.5h0M700.5 166.7h0M700.4 165.6h0M700.4 163.7h0M700.4 158.0h0M700.4 157.3h0M700.4 163.6h0M700.6 167.5h0M700.7 167.1h0M700.6 167.1h0M700.4 161.8h0M700.7 172.5h0M700.5 164.2h0M700.6 172.8h0M700.6 165.2h0M700.6 163.8h0M700.6 168.3h0M700.8 160.0h0M700.8 155.6h0M700.9 154.1h0M700.8 171.1h0M700.9 172.2h0M700.8 157.4h0M700.7 170.6h0M700.8 166.8h0M700.9 170.5h0M700.7 156.0h0M700.9 154.5h0M700.9 151.8h0M700.9 165.1h0M701.0 169.4h0M701.0 158.8h0M701.0 168.0h0M701.1 161.2h0M700.9 160.1h0M701.1 159.6h0M701.1 156.0h0M701.1 161.8h0M701.2 162.4h0M701.2 164.9h0M701.0 157.4h0M701.1 162.1h0M701.2 156.6h0M701.1 163.3h0M701.3 160.9h0M701.1 166.7h0M701.2 172.3h0M701.3 166.5h0M701.4 165.3h0M701.2 159.8h0M701.2 167.2h0M701.3 167.4h0M701.3 161.4h0M701.4 173.4h0M701.4 169.5h0M701.3 161.7h0M701.4 171.4h0M701.4 163.1h0M701.5 158.8h0M701.5 156.3h0M701.6 155.8h0M701.4 152.9h0M701.6 154.9h0M701.5 159.3h0M701.5 167.8h0M701.7 169.6h0M701.7 161.9h0M701.5 155.2h0M701.6 151.9h0M701.5 153.9h0M701.5 165.4h0M701.5 164.5h0M701.7 162.0h0M701.6 157.0h0M701.6 151.6h0M701.7 163.4h0M701.6 149.6h0M701.7 155.3h0M701.6 157.4h0M701.7 159.0h0M701.9 148.8h0M701.8 150.7h0M701.9 165.4h0M701.7 163.7h0M701.8 156.8h0M701.8 168.1h0M701.9 165.5h0M701.7 177.1h0M702.0 169.4h0M701.9 163.2h0M701.8 160.3h0M701.9 152.6h0M702.0 173.4h0M701.9 152.3h0M702.1 162.4h0M701.9 159.0h0M702.1 167.6h0M702.1 159.2h0M702.0 163.0h0M701.9 160.6h0M702.2 171.3h0M702.1 157.6h0M702.2 156.1h0M702.0 154.1h0M702.0 164.7h0M702.2 164.1h0M702.2 169.4h0M702.1 158.2h0M702.0 158.6h0M702.2 165.2h0M702.2 158.2h0M702.3 155.7h0M702.2 160.8h0M702.3 145.5h0M702.2 155.6h0M702.3 161.2h0M702.4 153.9h0M702.3 161.1h0M702.2 173.3h0M702.3 175.3h0M702.3 150.0h0M702.4 154.7h0M702.3 164.5h0M702.3 160.6h0M702.5 169.2h0M702.5 159.7h0M702.3 161.3h0M702.4 156.3h0M702.4 158.0h0M702.4 154.6h0M702.4 153.3h0M702.4 154.0h0M702.4 153.8h0M702.4 154.2h0M702.5 146.8h0M702.5 151.8h0M702.5 166.5h0M702.6 161.9h0M702.6 168.1h0M702.6 153.3h0M702.6 150.2h0M702.7 172.3h0M702.8 173.1h0M702.7 172.6h0M702.7 164.6h0M702.7 172.9h0M702.8 173.6h0M702.8 169.3h0M702.7 173.1h0M702.6 171.3h0M702.8 152.8h0M702.9 166.7h0M702.9 167.2h0M702.8 164.2h0M703.0 155.3h0M702.9 157.2h0M702.8 160.3h0M702.8 169.0h0M702.8 164.8h0M702.8 169.5h0M703.1 171.0h0M702.8 157.5h0M703.1 155.0h0M702.8 166.3h0M703.1 165.5h0M702.9 158.0h0M702.9 147.3h0M702.9 156.6h0M703.0 152.9h0M703.0 160.2h0M703.0 153.4h0M703.0 162.0h0M703.1 167.3h0M703.0 178.7h0M703.2 172.6h0M703.3 178.6h0M703.3 172.3h0M703.3 163.8h0M703.2 176.0h0M703.3 172.2h0M703.3 175.4h0M703.3 165.3h0M703.4 170.3h0M703.3 162.1h0M703.3 175.4h0M703.3 169.7h0M703.3 166.3h0M703.2 163.4h0M703.5 171.5h0M703.3 170.2h0M703.3 163.9h0M703.3 155.5h0M703.5 164.7h0M703.5 164.2h0M703.3 167.9h0M703.5 165.7h0M703.3 168.4h0M703.3 154.1h0M703.6 152.0h0M703.6 162.8h0M703.5 172.3h0M703.7 156.7h0M703.5 166.7h0M703.5 159.8h0M703.6 149.7h0M703.7 165.1h0M703.5 167.2h0M703.7 164.5h0M703.7 160.9h0M703.8 161.9h0M703.6 167.2h0M703.6 150.5h0M703.8 162.6h0M703.8 171.0h0M703.7 168.2h0M703.8 166.7h0M703.7 156.9h0M703.7 168.4h0M703.9 157.0h0M703.8 162.8h0M703.7 161.0h0M703.9 166.6h0M703.8 170.8h0M703.9 166.0h0M703.9 173.6h0M703.9 177.2h0M703.8 165.1h0M704.1 165.6h0M703.9 163.6h0M703.9 164.7h0M703.9 157.5h0M704.1 161.5h0M704.1 170.5h0M704.1 161.9h0M704.1 158.3h0M704.1 147.1h0M703.9 154.9h0M704.0 162.9h0M704.0 163.7h0M704.2 167.1h0M704.2 165.6h0M704.2 164.3h0M704.3 165.1h0M704.1 163.7h0M704.1 161.9h0M704.1 172.7h0M704.3 176.5h0M704.3 168.0h0M704.3 145.1h0M704.3 169.8h0M704.3 170.4h0M704.1 174.2h0M704.3 170.6h0M704.2 162.2h0M704.4 157.9h0M704.3 164.2h0M704.3 173.4h0M704.3 176.1h0M704.3 164.2h0M704.4 173.3h0M704.5 175.2h0M704.3 172.9h0M704.5 171.3h0M704.3 164.3h0M704.4 169.6h0M704.3 160.4h0M704.4 157.7h0M704.5 147.9h0M704.4 147.8h0M704.4 166.3h0M704.6 148.1h0M704.6 162.3h0M704.4 167.1h0M704.4 158.9h0M704.7 168.0h0M704.6 170.6h0M704.7 157.0h0M704.5 165.9h0M704.7 159.5h0M704.6 161.7h0M704.6 148.5h0M704.7 152.1h0M704.7 164.0h0M704.7 165.9h0M704.8 158.8h0M704.8 175.9h0M704.9 150.0h0M704.7 161.4h0M704.8 165.0h0M704.8 158.1h0M704.9 167.3h0M705.0 167.5h0M704.9 160.1h0M704.8 160.9h0M705.0 159.2h0M705.0 155.1h0M704.9 159.8h0M704.9 155.3h0M704.8 149.1h0M704.9 158.4h0M704.9 144.7h0M705.0 161.7h0M705.0 161.1h0M704.9 163.1h0M705.0 146.6h0M705.0 157.2h0M704.9 155.2h0M704.9 164.8h0M705.1 167.0h0M705.1 166.7h0M705.1 162.0h0M705.0 152.9h0M705.2 157.4h0M705.0 152.4h0M705.1 161.4h0M705.0 178.7h0M705.2 169.2h0M705.2 165.0h0M705.2 167.6h0M705.1 160.0h0M705.2 165.4h0M705.2 159.8h0M705.3 168.4h0M705.2 163.8h0M705.1 167.9h0M705.3 160.4h0M705.3 155.0h0M705.2 159.8h0M705.2 162.1h0M705.3 164.4h0M705.4 163.9h0M705.2 168.8h0M705.5 174.7h0M705.5 166.0h0M705.2 168.1h0M705.5 168.5h0M705.5 161.1h0M705.5 167.4h0M705.5 173.0h0M705.5 177.4h0M705.4 172.1h0M705.5 174.6h0M705.4 163.8h0M705.4 171.5h0M705.6 159.2h0M705.5 153.9h0M705.5 153.9h0M705.5 160.9h0M705.5 169.9h0M705.7 170.9h0M705.5 163.2h0M705.5 159.9h0M705.7 160.0h0M705.7 153.0h0M705.7 150.1h0M705.6 158.6h0M705.7 178.2h0M705.5 169.9h0M705.6 160.7h0M705.8 157.9h0M705.7 169.7h0M705.6 168.7h0M705.7 160.1h0M705.9 158.3h0M705.8 150.5h0M705.9 151.3h0M705.8 158.7h0M705.9 158.2h0M705.9 153.6h0M705.9 167.3h0M705.8 166.9h0M706.0 161.0h0M705.7 164.7h0M705.8 170.4h0M705.9 151.6h0M705.9 165.3h0M705.8 168.9h0M706.0 168.8h0M706.0 178.2h0M706.1 178.1h0M705.9 156.4h0M705.9 160.1h0M706.0 161.8h0M706.0 161.4h0M706.0 160.6h0M706.1 156.1h0M706.2 156.1h0M706.1 159.1h0M706.0 164.5h0M706.0 155.8h0M706.1 160.2h0M706.2 165.7h0M706.1 166.8h0M706.2 163.7h0M706.1 161.6h0M706.1 169.9h0M706.1 173.9h0M706.3 169.5h0M706.2 173.1h0M706.1 159.8h0M706.2 166.6h0M706.2 159.5h0M706.3 159.2h0M706.2 169.2h0M706.3 174.2h0M706.4 169.6h0M706.3 155.4h0M706.2 150.6h0M706.4 155.5h0M706.2 152.5h0M706.3 152.7h0M706.5 165.9h0M706.3 162.2h0M706.5 156.3h0M706.5 151.4h0M706.4 161.3h0M706.5 146.4h0M706.4 152.3h0M706.5 150.9h0M706.5 166.1h0M706.4 174.8h0M706.6 173.4h0M706.6 163.5h0M706.5 169.3h0M706.6 158.4h0M706.5 156.4h0M706.5 154.7h0M706.5 159.9h0M706.5 168.8h0M706.6 160.7h0M706.8 164.8h0M706.7 155.0h0M706.5 162.4h0M706.5 162.0h0M706.6 173.1h0M706.7 180.0h0M706.6 169.9h0M706.6 169.2h0M706.7 170.7h0M706.9 166.2h0M706.7 159.9h0M706.8 154.7h0M706.8 147.9h0M706.7 164.3h0M706.9 167.8h0M706.8 178.3h0M706.8 172.8h0M706.8 168.8h0M706.7 158.5h0M706.7 162.5h0M706.7 165.7h0M706.9 170.6h0M706.9 174.2h0M706.7 169.9h0M707.0 159.8h0M707.0 173.3h0M707.0 179.9h0M707.0 169.5h0M707.0 160.2h0M706.8 151.0h0M707.1 151.6h0M707.0 155.0h0M707.0 145.9h0M706.9 179.8h0M707.0 162.8h0M706.9 171.3h0M706.9 172.1h0M707.0 157.6h0M707.0 151.3h0M707.0 173.3h0M707.0 166.1h0M707.1 157.1h0M707.2 156.8h0M707.1 155.8h0M707.1 154.3h0M707.2 157.9h0M707.2 163.9h0M707.0 156.5h0M707.3 157.4h0M707.1 154.7h0M707.1 178.6h0M707.2 174.0h0M707.2 172.4h0M707.1 171.5h0M707.2 169.2h0M707.4 168.7h0M707.3 166.4h0M707.2 165.6h0M707.3 165.3h0M707.3 166.7h0M707.3 166.3h0M707.3 152.4h0M707.4 167.5h0M707.3 150.5h0M707.5 152.6h0M707.2 170.6h0M707.5 176.5h0M707.5 169.1h0M707.5 165.8h0M707.5 171.5h0M707.5 175.8h0M707.3 179.7h0M707.3 177.3h0M707.3 175.2h0M707.6 173.2h0M707.5 167.0h0M707.4 159.4h0M707.4 166.2h0M707.6 159.4h0M707.6 161.2h0M707.5 159.5h0M707.5 148.6h0M707.7 164.7h0M707.6 167.4h0M707.6 166.4h0M707.6 157.8h0M707.7 167.2h0M707.5 164.7h0M707.6 147.8h0M707.6 149.5h0M707.6 145.5h0M707.8 159.0h0M707.6 163.6h0M707.6 162.8h0M707.7 168.5h0M707.8 163.7h0M707.8 146.5h0M707.7 158.6h0M707.8 167.6h0M707.7 168.4h0M707.7 164.1h0M707.7 162.7h0M707.8 171.3h0M707.8 163.3h0M707.8 154.3h0M707.9 156.7h0M707.7 152.6h0M707.8 167.4h0M707.8 158.8h0M707.9 159.8h0M708.0 157.2h0M707.9 164.5h0M707.9 168.3h0M708.0 155.6h0M707.9 156.4h0M707.8 161.2h0M708.1 166.6h0M707.9 169.8h0M707.9 167.9h0M708.0 160.3h0M707.9 161.3h0M708.0 164.7h0M708.1 161.0h0M708.1 170.9h0M708.1 167.7h0M708.1 147.6h0M708.0 159.0h0M708.1 157.7h0M707.9 169.2h0M707.9 159.6h0M708.2 159.5h0M708.1 161.3h0M708.0 157.0h0M708.2 153.3h0M708.2 161.6h0M708.2 170.8h0M708.1 165.4h0M708.0 171.0h0M708.1 159.8h0M708.2 155.3h0M708.3 154.6h0M708.3 160.2h0M708.3 165.3h0M708.2 159.7h0M708.3 160.5h0M708.2 161.4h0M708.2 156.1h0M708.3 165.3h0M708.3 146.8h0M708.3 160.7h0M708.3 150.0h0M708.5 156.3h0M708.4 163.3h0M708.5 145.8h0M708.4 155.1h0M708.5 150.0h0M708.4 152.3h0M708.6 164.6h0M708.5 160.4h0M708.4 156.0h0M708.6 155.8h0M708.5 168.0h0M708.6 160.7h0M708.4 163.2h0M708.4 175.2h0M708.6 156.8h0M708.6 161.3h0M708.5 160.0h0M708.6 167.1h0M708.5 168.1h0M708.5 161.0h0M708.5 161.6h0M708.8 166.9h0M708.6 161.5h0M708.8 153.6h0M708.7 161.5h0M708.7 159.2h0M708.6 169.6h0M708.7 179.0h0M708.6 166.9h0M708.8 158.3h0M708.9 162.7h0M708.7 162.0h0M708.7 171.1h0M708.8 166.6h0M708.8 168.8h0M708.9 162.3h0M708.8 179.2h0M708.9 163.5h0M708.7 164.5h0M708.8 159.6h0M708.9 159.8h0M708.9 170.9h0M708.9 147.1h0M708.8 163.1h0M709.0 164.3h0M708.9 176.5h0M708.9 169.1h0M709.0 158.9h0M708.9 171.1h0M708.9 163.2h0M708.8 165.1h0M708.9 172.3h0M708.9 168.5h0M709.1 177.9h0M708.9 176.6h0M709.0 157.4h0M709.0 153.7h0M709.0 171.9h0M709.0 149.8h0M709.0 178.2h0M709.0 162.7h0M709.0 156.3h0M709.2 162.9h0M709.1 166.4h0M709.1 161.1h0M709.2 161.7h0M709.1 162.3h0M709.1 165.4h0M709.1 157.7h0M709.4 163.1h0M709.3 163.6h0M709.2 158.7h0M709.3 175.8h0M709.3 150.1h0M709.3 169.6h0M709.2 162.2h0M709.3 163.4h0M709.4 157.5h0M709.3 164.0h0M709.3 160.4h0M709.3 158.0h0M709.5 167.1h0M709.2 147.6h0M709.4 150.2h0M709.2 162.2h0M709.5 174.7h0M709.5 173.2h0M709.5 173.6h0M709.5 165.0h0M709.3 170.9h0M709.6 167.6h0M709.5 155.1h0M709.5 146.6h0M709.4 149.4h0M709.4 160.7h0M709.7 157.1h0M709.5 164.8h0M709.4 167.1h0M709.5 158.3h0M709.6 157.2h0M709.5 166.2h0M709.7 165.1h0M709.7 158.1h0M709.5 165.8h0M709.7 167.2h0M709.8 154.4h0M709.7 171.7h0M709.8 166.7h0M709.6 164.8h0M709.7 153.5h0M709.8 169.6h0M709.6 161.1h0M709.8 155.5h0M709.7 147.7h0M709.8 163.5h0M709.8 159.9h0M709.8 165.8h0M709.7 162.1h0M709.9 164.2h0M709.7 156.9h0M709.8 155.9h0M709.8 166.7h0M709.8 165.5h0M709.9 147.8h0M709.9 152.9h0M710.0 165.1h0M710.0 174.0h0M709.9 178.4h0M709.9 171.5h0M709.8 178.7h0M709.8 174.2h0M709.8 169.5h0M709.9 176.0h0M709.8 168.2h0M709.9 176.2h0M710.1 170.3h0M710.0 161.4h0M710.1 168.1h0M710.0 176.7h0M710.2 167.8h0M710.1 166.0h0M710.1 168.4h0M710.1 173.3h0M710.1 175.0h0M710.0 168.5h0M710.0 175.4h0M710.0 164.0h0M710.2 158.3h0M710.0 160.2h0M710.1 153.2h0M710.2 162.4h0M710.1 160.5h0M710.2 166.9h0M710.2 152.9h0M710.1 154.0h0M710.3 169.6h0M710.2 174.7h0M710.2 156.0h0M710.1 156.0h0M710.3 155.2h0M710.2 148.6h0M710.2 152.8h0M710.3 169.3h0M710.4 157.5h0M710.4 153.9h0M710.3 165.5h0M710.4 159.6h0M710.2 145.9h0M710.4 145.4h0M710.3 156.8h0M710.4 148.6h0M710.4 161.1h0M710.3 151.9h0M710.5 167.2h0M710.5 160.6h0M710.4 169.0h0M710.4 154.2h0M710.4 158.8h0M710.5 168.4h0M710.4 166.0h0M710.5 157.7h0M710.5 153.0h0M710.6 164.8h0M710.4 152.3h0M710.4 158.1h0M710.5 152.1h0M710.5 160.8h0M710.5 161.1h0M710.6 156.8h0M710.5 162.8h0M710.5 159.5h0M710.7 160.5h0M710.6 165.7h0M710.7 165.1h0M710.6 157.9h0M710.6 165.0h0M710.7 169.4h0M710.6 148.9h0M710.7 151.1h0M710.8 152.5h0M710.6 173.4h0M710.7 174.7h0M710.7 161.1h0M710.8 163.3h0M710.9 165.7h0M710.9 157.0h0M710.6 152.7h0M710.9 152.4h0M710.9 152.9h0M710.7 160.3h0M710.9 159.4h0M710.8 164.3h0M710.7 162.9h0M711.0 169.2h0M710.9 174.4h0M711.0 151.0h0M710.8 166.6h0M710.8 162.8h0M710.8 180.9h0M710.9 159.1h0M710.9 165.4h0M710.9 157.9h0M710.8 168.9h0M711.0 155.3h0M711.1 174.2h0M710.9 174.6h0M710.9 160.2h0M710.9 163.8h0M711.1 161.3h0M710.9 147.6h0M710.9 163.3h0M711.0 154.7h0M711.1 166.2h0M711.2 172.4h0M710.9 174.5h0M711.0 175.9h0M711.2 159.6h0M711.1 167.3h0M711.0 163.4h0M711.2 175.5h0M711.2 177.5h0M711.1 164.6h0M711.0 164.9h0M711.2 154.2h0M711.1 148.2h0M711.0 161.6h0M711.3 178.9h0M711.1 165.5h0M711.2 150.8h0M711.3 153.9h0M711.3 162.7h0M711.1 162.7h0M711.2 158.9h0M711.2 166.9h0M711.2 162.0h0M711.2 156.9h0M711.1 161.0h0M711.1 163.9h0M711.3 168.3h0M711.2 160.8h0M711.4 179.6h0M711.2 173.5h0M711.2 167.4h0M711.4 158.5h0M711.4 167.8h0M711.3 160.4h0M711.3 163.5h0M711.3 163.7h0M711.3 154.6h0M711.3 153.5h0M711.3 153.7h0M711.6 160.2h0M711.6 159.4h0M711.4 151.6h0M711.3 171.3h0M711.5 150.0h0M711.5 161.7h0M711.5 159.3h0M711.5 158.7h0M711.7 165.1h0M711.5 171.0h0M711.6 154.4h0M711.4 160.0h0M711.5 167.9h0M711.4 167.6h0M711.6 166.9h0M711.5 159.8h0M711.4 166.4h0M711.6 178.0h0M711.5 155.6h0M711.7 165.0h0M711.5 156.2h0M711.7 164.9h0M711.8 161.4h0M711.5 165.3h0M711.7 166.5h0M711.7 173.4h0M711.8 165.5h0M711.7 159.4h0M711.6 161.1h0M711.6 162.6h0M711.6 172.1h0M711.7 161.6h0M711.8 162.2h0M711.7 164.2h0M711.7 168.6h0M711.7 157.2h0M711.8 160.4h0M711.8 158.4h0M711.7 164.8h0M711.7 172.5h0M711.9 161.5h0M711.8 157.5h0M711.9 159.1h0M711.8 160.3h0M711.8 160.1h0M711.7 163.5h0M711.8 169.2h0M711.9 165.3h0M711.7 180.8h0M711.8 161.1h0M711.8 147.2h0M711.8 147.1h0M711.8 171.8h0M712.0 167.3h0M711.8 155.1h0M712.0 152.3h0M712.0 154.7h0M711.8 146.1h0M711.9 155.5h0M712.0 175.5h0M712.0 171.3h0M712.0 175.7h0M712.0 177.6h0M712.0 169.9h0M712.2 164.6h0M712.1 166.5h0M711.9 160.8h0M712.0 167.6h0M711.9 167.5h0M712.2 147.3h0M712.1 160.6h0M712.0 149.6h0M712.1 158.7h0M712.1 153.6h0M712.1 154.4h0M712.2 175.8h0M712.1 165.0h0M712.2 170.5h0M712.1 154.9h0M712.1 163.6h0M712.0 157.6h0M712.3 152.0h0M712.2 164.7h0M712.3 178.7h0M712.1 179.1h0M712.3 164.8h0M712.1 166.7h0M712.3 175.5h0M712.2 179.3h0M712.3 170.3h0M712.3 162.2h0M712.2 169.1h0M712.3 158.0h0M712.2 162.9h0M712.3 164.5h0M712.3 153.1h0M712.3 169.2h0M712.2 179.5h0M712.4 174.7h0M712.3 172.3h0M712.2 175.3h0M712.3 173.4h0M712.4 163.0h0M712.4 171.7h0M712.4 159.0h0M712.4 149.3h0M712.4 155.8h0M712.4 147.7h0M712.4 161.7h0M712.3 147.7h0M712.4 156.1h0M712.4 158.0h0M712.5 163.5h0M712.3 163.3h0M712.4 162.2h0M712.5 167.4h0M712.5 157.5h0M712.5 157.1h0M712.5 151.9h0M712.5 157.7h0M712.5 155.8h0M712.6 165.6h0M712.7 161.2h0M712.6 157.9h0M712.6 166.2h0M712.5 163.1h0M712.7 164.6h0M712.6 163.4h0M712.7 160.5h0M712.5 153.0h0M712.6 156.9h0M712.5 148.1h0M712.7 151.8h0M712.6 165.9h0M712.7 159.9h0M712.7 155.8h0M712.6 160.7h0M712.8 175.0h0M712.5 171.0h0M712.6 158.3h0M712.7 170.9h0M712.8 168.1h0M712.8 180.6h0M712.7 174.7h0M712.8 171.9h0M712.6 166.2h0M712.8 179.3h0M712.8 164.9h0M712.6 176.7h0M712.8 161.4h0M712.8 169.4h0M712.9 168.8h0M712.8 171.8h0M712.7 165.7h0M712.8 151.3h0M712.9 150.9h0M712.9 157.6h0M712.8 151.4h0M713.0 150.4h0M712.8 160.9h0M712.7 161.7h0M713.0 162.9h0M712.8 163.1h0M712.8 165.4h0M713.0 161.6h0M712.8 160.3h0M712.9 159.3h0M712.9 159.0h0M712.9 168.0h0M713.0 156.7h0M713.1 170.5h0M713.1 152.1h0M713.0 173.4h0M713.2 174.3h0M713.0 148.5h0M713.0 151.3h0M713.0 179.5h0M713.2 180.7h0M713.1 172.0h0M713.1 168.4h0M713.2 163.3h0M713.1 172.8h0M713.0 161.6h0M713.2 179.9h0M713.1 157.7h0M713.2 178.0h0M713.1 171.9h0M713.1 169.8h0M713.1 171.8h0M713.2 166.8h0M713.3 156.8h0M713.2 164.6h0M713.3 164.5h0M713.1 178.5h0M713.1 167.1h0M713.1 169.1h0M713.1 159.6h0M713.2 171.4h0M713.1 163.8h0M713.2 163.3h0M713.2 161.2h0M713.3 150.6h0M713.2 164.7h0M713.2 161.3h0M713.4 169.4h0M713.4 169.6h0M713.4 158.6h0M713.2 157.9h0M713.3 166.9h0M713.2 167.6h0M713.3 167.2h0M713.3 165.5h0M713.2 162.1h0M713.4 161.6h0M713.3 175.8h0M713.4 164.2h0M713.4 174.8h0M713.4 175.0h0M713.4 168.1h0M713.4 170.8h0M713.5 166.7h0M713.4 161.7h0M713.3 162.2h0M713.4 163.7h0M713.4 170.5h0M713.4 174.8h0M713.5 165.1h0M713.6 151.3h0M713.5 166.0h0M713.5 165.1h0M713.4 168.5h0M713.5 168.0h0M713.5 167.7h0M713.4 161.7h0M713.6 165.3h0M713.5 171.4h0M713.6 168.5h0M713.6 172.1h0M713.5 170.1h0M713.6 157.6h0M713.5 157.6h0M713.4 156.6h0M713.7 155.9h0M713.6 156.1h0M713.5 164.0h0M713.7 168.7h0M713.6 168.2h0M713.6 173.2h0M713.5 171.9h0M713.7 167.2h0M713.8 149.6h0M713.6 156.3h0M713.8 147.8h0M713.8 149.3h0M713.7 159.6h0M713.7 150.9h0M713.7 154.7h0M713.7 166.2h0M713.9 165.4h0M713.8 152.5h0M713.8 170.4h0M713.7 179.0h0M713.6 153.0h0M713.9 179.8h0M713.9 163.6h0M713.8 146.6h0M713.9 157.9h0M713.7 151.9h0M713.7 146.2h0M713.8 164.5h0M713.8 149.0h0M713.7 150.9h0M713.8 161.6h0M713.7 157.4h0M713.7 147.2h0M713.9 172.4h0M713.9 159.2h0M713.8 146.1h0M714.0 152.0h0M714.0 153.0h0M713.9 156.9h0M713.9 160.6h0M713.9 159.1h0M714.0 161.6h0M714.0 175.7h0M713.8 171.3h0M713.9 169.2h0M714.0 159.9h0M714.0 160.4h0M714.0 160.0h0M713.9 156.0h0M713.9 148.7h0M713.9 155.8h0M714.1 160.8h0M714.1 149.3h0M714.1 162.6h0M714.0 168.5h0M714.2 163.5h0M714.0 163.0h0M714.1 154.2h0M714.0 157.6h0M714.1 160.7h0M714.3 162.3h0M714.3 157.2h0M714.2 146.3h0M714.2 161.7h0M714.2 169.2h0M714.3 155.9h0M714.3 159.6h0M714.1 154.2h0M714.3 162.8h0M714.3 151.1h0M714.2 151.2h0M714.2 159.5h0M714.3 169.1h0M714.2 170.4h0M714.3 169.9h0M714.2 153.6h0M714.2 155.9h0M714.4 146.7h0M714.3 164.1h0M714.2 171.4h0M714.3 153.7h0M714.4 166.7h0M714.2 158.0h0M714.5 165.5h0M714.5 168.5h0M714.3 175.4h0M714.4 163.5h0M714.4 160.9h0M714.5 166.5h0M714.5 164.3h0M714.5 169.9h0M714.4 168.4h0M714.3 168.7h0M714.5 156.8h0M714.5 156.2h0M714.4 152.5h0M714.4 153.8h0M714.4 151.4h0M714.5 157.1h0M714.4 157.5h0M714.5 177.3h0M714.5 163.2h0M714.5 168.9h0M714.6 164.2h0M714.7 163.5h0M714.6 176.7h0M714.4 171.1h0M714.7 167.2h0M714.5 171.0h0M714.6 162.2h0M714.7 154.6h0M714.5 160.2h0M714.5 175.8h0M714.7 164.9h0M714.7 146.2h0M714.6 170.1h0M714.6 177.2h0M714.7 172.5h0M714.6 171.6h0M714.7 163.9h0M714.8 173.3h0M714.6 166.2h0M714.5 164.6h0M714.8 175.2h0M714.7 173.8h0M714.6 154.5h0M714.6 160.2h0M714.8 157.0h0M714.6 164.2h0M714.8 167.7h0M714.6 176.5h0M714.9 177.1h0M714.7 154.7h0M714.7 165.8h0M714.7 163.5h0M714.8 168.9h0M714.8 169.7h0M714.7 175.0h0M714.9 169.1h0M714.9 164.8h0M714.9 162.4h0M715.0 168.3h0M714.9 170.1h0M715.0 161.4h0M715.0 175.1h0M714.9 168.9h0M714.8 159.0h0M714.8 153.9h0M714.9 156.0h0M715.1 155.5h0M715.0 158.1h0M714.9 165.7h0M714.9 164.5h0M715.1 164.8h0M715.1 156.9h0M715.1 160.3h0M714.9 157.0h0M714.9 147.6h0M715.0 149.0h0M714.9 159.3h0M715.0 163.7h0M715.0 159.9h0M714.9 159.7h0M715.1 159.4h0M714.9 155.7h0M715.2 156.9h0M715.1 166.0h0M715.2 162.8h0M715.2 163.6h0M715.2 161.5h0M715.1 168.2h0M715.0 172.0h0M715.1 157.4h0M715.2 167.0h0M715.0 163.6h0M715.0 162.2h0M715.1 173.5h0M715.1 156.3h0M715.1 160.5h0M715.2 151.9h0M715.0 161.8h0M715.3 172.5h0M715.1 172.1h0M715.2 176.8h0" stroke="#000" stroke-width="2.6" stroke-linecap="round" fill="none"/>
<line x1="74.0" y1="82.2" x2="176.6" y2="243.4" stroke="#f00" stroke-width="1.4"/>
<line x1="317.6" y1="51.9" x2="420.2" y2="169.0" stroke="#f00" stroke-width="1.4"/>
<line x1="561.2" y1="87.1" x2="663.8" y2="155.4" stroke="#f00" stroke-width="1.4"/>
<rect x="64.50" y="34.50" width="178.50" height="319.00" fill="none" stroke="#262626" stroke-width="1"/>
<path d="M90.00 353.50v-3.3M90.00 34.50v3.3" stroke="#262626" stroke-width="1"/>
<text transform="translate(89.10,371.50) scale(0.930,1.000)" font-size="13.6" text-anchor="middle">10</text>
<text x="96.00" y="365.0" font-size="9.8">-3</text>
<path d="M141.00 353.50v-3.3M141.00 34.50v3.3" stroke="#262626" stroke-width="1"/>
<text transform="translate(140.10,371.50) scale(0.930,1.000)" font-size="13.6" text-anchor="middle">10</text>
<text x="147.00" y="365.0" font-size="9.8">-2</text>
<path d="M192.00 353.50v-3.3M192.00 34.50v3.3" stroke="#262626" stroke-width="1"/>
<text transform="translate(191.10,371.50) scale(0.930,1.000)" font-size="13.6" text-anchor="middle">10</text>
<text x="198.00" y="365.0" font-size="9.8">-1</text>
<text transform="translate(242.10,371.50) scale(0.930,1.000)" font-size="13.6" text-anchor="middle">10</text>
<text x="249.00" y="365.0" font-size="9.8">0</text>
<path d="M64.50 140.83h3.3M243.00 140.83h-3.3" stroke="#262626" stroke-width="1"/>
<path d="M64.50 247.17h3.3M243.00 247.17h-3.3" stroke="#262626" stroke-width="1"/>
<text transform="translate(51.30,41.60) scale(0.930,1.000)" font-size="13.6" text-anchor="end">10</text>
<text x="52.20" y="35.25" font-size="9.8">0</text>
<text transform="translate(51.30,147.93) scale(0.930,1.000)" font-size="13.6" text-anchor="end">10</text>
<text x="60.50" y="141.58" font-size="9.8" text-anchor="end">-2</text>
<text transform="translate(51.30,254.27) scale(0.930,1.000)" font-size="13.6" text-anchor="end">10</text>
<text x="60.50" y="247.92" font-size="9.8" text-anchor="end">-4</text>
<text transform="translate(51.30,360.60) scale(0.930,1.000)" font-size="13.6" text-anchor="end">10</text>
<text x="60.50" y="354.25" font-size="9.8" text-anchor="end">-6</text>
<text x="153.75" y="29.4" font-size="14.7" font-weight="bold" text-anchor="middle">CHF</text>
<text transform="translate(141.00,91.3) scale(1.32,1.12)" font-size="15" font-style="italic">&#945;</text>
<text x="151.70" y="98.2" font-size="12.6">sp</text>
<text x="167.70" y="91.6" font-size="15.5">=</text>
<text x="182.00" y="91.2" font-size="15.5" letter-spacing="0.45">1.51</text>
<rect x="308.00" y="34.50" width="178.50" height="319.00" fill="none" stroke="#262626" stroke-width="1"/>
<path d="M333.50 353.50v-3.3M333.50 34.50v3.3" stroke="#262626" stroke-width="1"/>
<text transform="translate(332.60,371.50) scale(0.930,1.000)" font-size="13.6" text-anchor="middle">10</text>
<text x="339.50" y="365.0" font-size="9.8">-3</text>
<path d="M384.50 353.50v-3.3M384.50 34.50v3.3" stroke="#262626" stroke-width="1"/>
<text transform="translate(383.60,371.50) scale(0.930,1.000)" font-size="13.6" text-anchor="middle">10</text>
<text x="390.50" y="365.0" font-size="9.8">-2</text>
<path d="M435.50 353.50v-3.3M435.50 34.50v3.3" stroke="#262626" stroke-width="1"/>
<text transform="translate(434.60,371.50) scale(0.930,1.000)" font-size="13.6" text-anchor="middle">10</text>
<text x="441.50" y="365.0" font-size="9.8">-1</text>
<text transform="translate(485.60,371.50) scale(0.930,1.000)" font-size="13.6" text-anchor="middle">10</text>
<text x="492.50" y="365.0" font-size="9.8">0</text>
<path d="M308.00 140.83h3.3M486.50 140.83h-3.3" stroke="#262626" stroke-width="1"/>
<path d="M308.00 247.17h3.3M486.50 247.17h-3.3" stroke="#262626" stroke-width="1"/>
<text transform="translate(294.80,41.60) scale(0.930,1.000)" font-size="13.6" text-anchor="end">10</text>
<text x="295.70" y="35.25" font-size="9.8">0</text>
<text transform="translate(294.80,147.93) scale(0.930,1.000)" font-size="13.6" text-anchor="end">10</text>
<text x="304.00" y="141.58" font-size="9.8" text-anchor="end">-2</text>
<text transform="translate(294.80,254.27) scale(0.930,1.000)" font-size="13.6" text-anchor="end">10</text>
<text x="304.00" y="247.92" font-size="9.8" text-anchor="end">-4</text>
<text transform="translate(294.80,360.60) scale(0.930,1.000)" font-size="13.6" text-anchor="end">10</text>
<text x="304.00" y="354.25" font-size="9.8" text-anchor="end">-6</text>
<text x="397.25" y="29.4" font-size="14.7" font-weight="bold" text-anchor="middle">Healthy</text>
<text transform="translate(384.70,91.3) scale(1.32,1.12)" font-size="15" font-style="italic">&#945;</text>
<text x="395.40" y="98.2" font-size="12.6">sp</text>
<text x="411.40" y="91.6" font-size="15.5">=</text>
<text x="425.70" y="91.2" font-size="15.5" letter-spacing="0.45">1.09</text>
<rect x="551.60" y="34.50" width="179.20" height="319.00" fill="none" stroke="#262626" stroke-width="1"/>
<path d="M577.20 353.50v-3.3M577.20 34.50v3.3" stroke="#262626" stroke-width="1"/>
<text transform="translate(576.30,371.50) scale(0.930,1.000)" font-size="13.6" text-anchor="middle">10</text>
<text x="583.20" y="365.0" font-size="9.8">-3</text>
<path d="M628.40 353.50v-3.3M628.40 34.50v3.3" stroke="#262626" stroke-width="1"/>
<text transform="translate(627.50,371.50) scale(0.930,1.000)" font-size="13.6" text-anchor="middle">10</text>
<text x="634.40" y="365.0" font-size="9.8">-2</text>
<path d="M679.60 353.50v-3.3M679.60 34.50v3.3" stroke="#262626" stroke-width="1"/>
<text transform="translate(678.70,371.50) scale(0.930,1.000)" font-size="13.6" text-anchor="middle">10</text>
<text x="685.60" y="365.0" font-size="9.8">-1</text>
<text transform="translate(729.90,371.50) scale(0.930,1.000)" font-size="13.6" text-anchor="middle">10</text>
<text x="736.80" y="365.0" font-size="9.8">0</text>
<path d="M551.60 140.83h3.3M730.80 140.83h-3.3" stroke="#262626" stroke-width="1"/>
<path d="M551.60 247.17h3.3M730.80 247.17h-3.3" stroke="#262626" stroke-width="1"/>
<text transform="translate(538.40,41.60) scale(0.930,1.000)" font-size="13.6" text-anchor="end">10</text>
<text x="539.30" y="35.25" font-size="9.8">0</text>
<text transform="translate(538.40,147.93) scale(0.930,1.000)" font-size="13.6" text-anchor="end">10</text>
<text x="547.60" y="141.58" font-size="9.8" text-anchor="end">-2</text>
<text transform="translate(538.40,254.27) scale(0.930,1.000)" font-size="13.6" text-anchor="end">10</text>
<text x="547.60" y="247.92" font-size="9.8" text-anchor="end">-4</text>
<text transform="translate(538.40,360.60) scale(0.930,1.000)" font-size="13.6" text-anchor="end">10</text>
<text x="547.60" y="354.25" font-size="9.8" text-anchor="end">-6</text>
<text x="641.20" y="29.4" font-size="14.7" font-weight="bold" text-anchor="middle">AF</text>
<text transform="translate(628.60,91.3) scale(1.32,1.12)" font-size="15" font-style="italic">&#945;</text>
<text x="639.30" y="98.2" font-size="12.6">sp</text>
<text x="655.30" y="91.6" font-size="15.5">=</text>
<text x="669.60" y="91.2" font-size="15.5" letter-spacing="0.45">0.64</text>
<text transform="translate(25.2,194) rotate(-90)" font-size="14.7" font-weight="bold" text-anchor="middle">Power Spectral Density</text>
<text x="397.2" y="398.8" font-size="14.7" font-weight="bold" text-anchor="middle">Frequency (Hz)</text>
</svg></body></html>
